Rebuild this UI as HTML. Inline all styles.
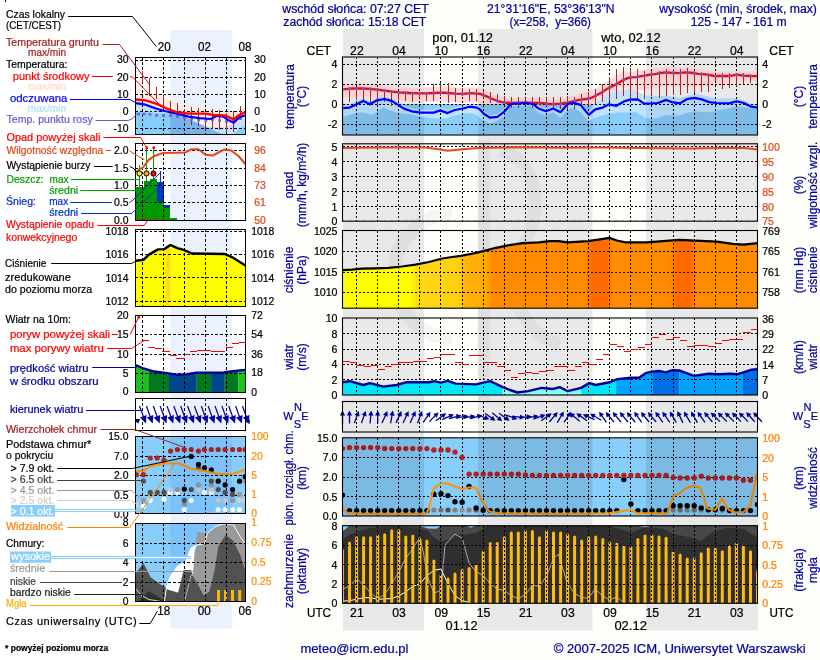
<!DOCTYPE html>
<html lang="pl"><head><meta charset="utf-8"><title>Meteogram ICM</title>
<style>html,body{margin:0;padding:0;background:#fff}svg{display:block}text{white-space:pre}</style>
</head><body>
<svg width="820" height="660" viewBox="0 0 820 660" font-family="Liberation Sans, Arial, sans-serif">
<rect x="280" y="0" width="540" height="660" fill="#fefefb" />
<rect x="343" y="29" width="81" height="601.5" fill="#e8e8e8" />
<rect x="478" y="29" width="114.5" height="601.5" fill="#e8e8e8" />
<rect x="646" y="29" width="112" height="601.5" fill="#e8e8e8" />
<g fill="none" stroke="#000" stroke-opacity="0.035" stroke-linecap="butt">
<path d="M452 214 A58 62 0 1 0 452 338" stroke-width="14"/>
<path d="M484 140 V400" stroke-width="12"/>
<path d="M500 150 C540 160 545 215 520 250 C500 285 520 330 560 345" stroke-width="13"/>
</g>
<defs>
<clipPath id="cP1"><rect x="342.5" y="57" width="415" height="78"/></clipPath>
<clipPath id="cP2"><rect x="342.5" y="143.8" width="415" height="77.4"/></clipPath>
<clipPath id="cP3"><rect x="342.5" y="230.5" width="415" height="77.7"/></clipPath>
<clipPath id="cP4"><rect x="342.5" y="318" width="415" height="77"/></clipPath>
<clipPath id="cP5"><rect x="342.5" y="401.5" width="415" height="30.5"/></clipPath>
<clipPath id="cP6"><rect x="342.5" y="437.8" width="415" height="78.2"/></clipPath>
<clipPath id="cP7"><rect x="342.5" y="525.7" width="415" height="77.6"/></clipPath>
</defs>
<g clip-path="url(#cP1)">
<polygon points="342.5,84.3 349.5,83.7 356.6,83.4 363.6,83.6 370.6,83.9 377.7,84.7 384.7,85.6 391.7,86.6 398.8,87.4 405.8,87.8 412.8,88.1 419.9,88.3 426.9,87.3 433.9,87 441,86.6 448,87 455,87.6 462.1,87.9 469.1,87.3 476.1,87.6 483.2,89.1 490.2,93 497.2,95.8 504.3,97.4 511.3,98 518.3,97.9 525.4,97.7 532.4,97.8 539.4,98 546.5,98.6 553.5,99 560.6,98.5 567.6,97.6 574.6,94.9 581.7,93.2 588.7,91.8 595.7,88.4 602.8,84.1 609.8,79.5 616.8,75.5 623.9,70.9 630.9,71.9 637.9,71.3 645,70.1 652,68.8 659,67.8 666.1,66.8 673.1,67.4 680.1,67.5 687.2,66.8 694.2,67.7 701.2,68.9 708.3,70 715.3,71.4 722.3,71.7 729.4,72 736.4,70.7 743.4,71.6 750.5,72 757.5,72.2 757.5,81.2 750.5,81 743.4,80.6 736.4,79.7 729.4,82 722.3,83.6 715.3,85.2 708.3,85.7 701.2,86.5 694.2,87.2 687.2,86.3 680.1,87 673.1,86.9 666.1,86.3 659,87.3 652,88.3 645,89.6 637.9,90.8 630.9,91.4 623.9,87.7 616.8,91.9 609.8,95.5 602.8,99.7 595.7,103.6 588.7,106.6 581.7,107.6 574.6,108.9 567.6,110.6 560.6,111.5 553.5,112 546.5,111.6 539.4,111 532.4,110.8 525.4,110.7 518.3,110.9 511.3,111 504.3,110.4 497.2,108.8 490.2,106 483.2,104.1 476.1,102.6 469.1,102.3 462.1,102.9 455,102.6 448,102 441,101.6 433.9,102 426.9,102.3 419.9,101.3 412.8,101.1 405.8,100.8 398.8,100.4 391.7,99.6 384.7,98.6 377.7,97.7 370.6,96.9 363.6,96.6 356.6,96.4 349.5,96.7 342.5,97.3" fill="#ffdada" />
<rect x="342.5" y="104" width="415" height="40" fill="#87cefa" />
<polygon points="343.2,105.4 349.6,103.9 357,101.1 363.4,97.9 369.8,101.5 377.1,97.5 384.4,96.2 391.7,98.1 398.1,102.1 404.5,106.1 411.8,108.5 421,109.8 433.8,109.8 440.2,107.6 447.5,110.3 454.8,107.2 463,105.7 469.4,103.9 476.8,104.8 480,106.6 484.1,111.2 490.1,114.9 497.4,114 503.8,109.4 511.1,101.2 525.7,100.2 533,101.2 538.5,105.7 545.9,108.5 553.2,105.7 560.5,109.4 567.8,101.2 573.3,99.9 580.6,102.1 588.8,112 595.2,102.8 602.6,97.3 609,93.5 616.3,90.9 624.5,89.3 630,89.9 637.8,91.6 644.2,94.9 651,96.1 657.9,96.3 666.2,95.7 671.6,96.6 679.9,97.9 687.2,95.7 694.5,94.5 701.8,95 709.1,97.1 716.5,99 729.3,98.1 736.6,98.4 743.9,100.2 751.2,103.8 757.6,104.8 757.6,109.4 743.9,107.6 736.6,105.8 729.3,108.5 718,110.5 707.3,112.2 694.5,111.3 687.2,113.1 678,115.8 666.2,114.9 656.1,118.6 645.1,117.7 636,112.2 625,112.2 618,112.6 608,114 595.2,117.7 588.8,121.3 580.6,112.2 574,108 567.8,109.4 560.5,117.7 553,112.2 546,115 538.5,113.1 533,105.8 511.1,105.8 503.8,116.8 497,121 490.1,123.2 480,118.6 477.7,115.8 470.4,113.1 463,114 453.9,115.8 446.6,118.6 433.8,118.6 421,116.8 408.2,114 399,113.1 389.9,110.4 383.5,107.6 371.6,114.9 362.4,112.2 353.3,114 343.2,116.8" fill="#bfe3ff" />
<clipPath id="nb">
<rect x="343" y="0" width="81" height="660"/>
<rect x="478" y="0" width="114.5" height="660"/>
<rect x="646" y="0" width="111.5" height="660"/>
</clipPath>
<g clip-path="url(#nb)">
<polygon points="342.5,84.3 349.5,83.7 356.6,83.4 363.6,83.6 370.6,83.9 377.7,84.7 384.7,85.6 391.7,86.6 398.8,87.4 405.8,87.8 412.8,88.1 419.9,88.3 426.9,87.3 433.9,87 441,86.6 448,87 455,87.6 462.1,87.9 469.1,87.3 476.1,87.6 483.2,89.1 490.2,93 497.2,95.8 504.3,97.4 511.3,98 518.3,97.9 525.4,97.7 532.4,97.8 539.4,98 546.5,98.6 553.5,99 560.6,98.5 567.6,97.6 574.6,94.9 581.7,93.2 588.7,91.8 595.7,88.4 602.8,84.1 609.8,79.5 616.8,75.5 623.9,70.9 630.9,71.9 637.9,71.3 645,70.1 652,68.8 659,67.8 666.1,66.8 673.1,67.4 680.1,67.5 687.2,66.8 694.2,67.7 701.2,68.9 708.3,70 715.3,71.4 722.3,71.7 729.4,72 736.4,70.7 743.4,71.6 750.5,72 757.5,72.2 757.5,81.2 750.5,81 743.4,80.6 736.4,79.7 729.4,82 722.3,83.6 715.3,85.2 708.3,85.7 701.2,86.5 694.2,87.2 687.2,86.3 680.1,87 673.1,86.9 666.1,86.3 659,87.3 652,88.3 645,89.6 637.9,90.8 630.9,91.4 623.9,87.7 616.8,91.9 609.8,95.5 602.8,99.7 595.7,103.6 588.7,106.6 581.7,107.6 574.6,108.9 567.6,110.6 560.6,111.5 553.5,112 546.5,111.6 539.4,111 532.4,110.8 525.4,110.7 518.3,110.9 511.3,111 504.3,110.4 497.2,108.8 490.2,106 483.2,104.1 476.1,102.6 469.1,102.3 462.1,102.9 455,102.6 448,102 441,101.6 433.9,102 426.9,102.3 419.9,101.3 412.8,101.1 405.8,100.8 398.8,100.4 391.7,99.6 384.7,98.6 377.7,97.7 370.6,96.9 363.6,96.6 356.6,96.4 349.5,96.7 342.5,97.3" fill="#f8d2d2" />
<rect x="342.5" y="104" width="415" height="40" fill="#7dbbe9" />
<polygon points="343.2,105.4 349.6,103.9 357,101.1 363.4,97.9 369.8,101.5 377.1,97.5 384.4,96.2 391.7,98.1 398.1,102.1 404.5,106.1 411.8,108.5 421,109.8 433.8,109.8 440.2,107.6 447.5,110.3 454.8,107.2 463,105.7 469.4,103.9 476.8,104.8 480,106.6 484.1,111.2 490.1,114.9 497.4,114 503.8,109.4 511.1,101.2 525.7,100.2 533,101.2 538.5,105.7 545.9,108.5 553.2,105.7 560.5,109.4 567.8,101.2 573.3,99.9 580.6,102.1 588.8,112 595.2,102.8 602.6,97.3 609,93.5 616.3,90.9 624.5,89.3 630,89.9 637.8,91.6 644.2,94.9 651,96.1 657.9,96.3 666.2,95.7 671.6,96.6 679.9,97.9 687.2,95.7 694.5,94.5 701.8,95 709.1,97.1 716.5,99 729.3,98.1 736.6,98.4 743.9,100.2 751.2,103.8 757.6,104.8 757.6,109.4 743.9,107.6 736.6,105.8 729.3,108.5 718,110.5 707.3,112.2 694.5,111.3 687.2,113.1 678,115.8 666.2,114.9 656.1,118.6 645.1,117.7 636,112.2 625,112.2 618,112.6 608,114 595.2,117.7 588.8,121.3 580.6,112.2 574,108 567.8,109.4 560.5,117.7 553,112.2 546,115 538.5,113.1 533,105.8 511.1,105.8 503.8,116.8 497,121 490.1,123.2 480,118.6 477.7,115.8 470.4,113.1 463,114 453.9,115.8 446.6,118.6 433.8,118.6 421,116.8 408.2,114 399,113.1 389.9,110.4 383.5,107.6 371.6,114.9 362.4,112.2 353.3,114 343.2,116.8" fill="#b0d6f6" />
</g>
</g>
<line x1="342.5" y1="64.5" x2="757.5" y2="64.5" stroke="#000" stroke-width="1" stroke-dasharray="2,2" shape-rendering="crispEdges"/>
<line x1="342.5" y1="84.5" x2="757.5" y2="84.5" stroke="#000" stroke-width="1" stroke-dasharray="2,2" shape-rendering="crispEdges"/>
<line x1="342.5" y1="104.5" x2="757.5" y2="104.5" stroke="#000" stroke-width="1" stroke-dasharray="2,2" shape-rendering="crispEdges"/>
<line x1="342.5" y1="124.5" x2="757.5" y2="124.5" stroke="#000" stroke-width="1" stroke-dasharray="2,2" shape-rendering="crispEdges"/>
<line x1="356.5" y1="57" x2="356.5" y2="135" stroke="#000" stroke-width="1" stroke-dasharray="2,2" shape-rendering="crispEdges"/>
<line x1="377.5" y1="57" x2="377.5" y2="135" stroke="#000" stroke-width="1" stroke-dasharray="2,2" shape-rendering="crispEdges"/>
<line x1="398.5" y1="57" x2="398.5" y2="135" stroke="#000" stroke-width="1" stroke-dasharray="2,2" shape-rendering="crispEdges"/>
<line x1="419.5" y1="57" x2="419.5" y2="135" stroke="#000" stroke-width="1" stroke-dasharray="2,2" shape-rendering="crispEdges"/>
<line x1="440.5" y1="57" x2="440.5" y2="135" stroke="#000" stroke-width="1" stroke-dasharray="2,2" shape-rendering="crispEdges"/>
<line x1="462.5" y1="57" x2="462.5" y2="135" stroke="#000" stroke-width="1" stroke-dasharray="2,2" shape-rendering="crispEdges"/>
<line x1="483.5" y1="57" x2="483.5" y2="135" stroke="#000" stroke-width="1" stroke-dasharray="2,2" shape-rendering="crispEdges"/>
<line x1="504.5" y1="57" x2="504.5" y2="135" stroke="#000" stroke-width="1" stroke-dasharray="2,2" shape-rendering="crispEdges"/>
<line x1="525.5" y1="57" x2="525.5" y2="135" stroke="#000" stroke-width="1" stroke-dasharray="2,2" shape-rendering="crispEdges"/>
<line x1="546.5" y1="57" x2="546.5" y2="135" stroke="#000" stroke-width="1" stroke-dasharray="2,2" shape-rendering="crispEdges"/>
<line x1="567.5" y1="57" x2="567.5" y2="135" stroke="#000" stroke-width="1" stroke-dasharray="2,2" shape-rendering="crispEdges"/>
<line x1="588.5" y1="57" x2="588.5" y2="135" stroke="#000" stroke-width="1" stroke-dasharray="2,2" shape-rendering="crispEdges"/>
<line x1="609.5" y1="57" x2="609.5" y2="135" stroke="#000" stroke-width="1" stroke-dasharray="2,2" shape-rendering="crispEdges"/>
<line x1="630.5" y1="57" x2="630.5" y2="135" stroke="#000" stroke-width="1" stroke-dasharray="2,2" shape-rendering="crispEdges"/>
<line x1="651.5" y1="57" x2="651.5" y2="135" stroke="#000" stroke-width="1" stroke-dasharray="2,2" shape-rendering="crispEdges"/>
<line x1="673.5" y1="57" x2="673.5" y2="135" stroke="#000" stroke-width="1" stroke-dasharray="2,2" shape-rendering="crispEdges"/>
<line x1="694.5" y1="57" x2="694.5" y2="135" stroke="#000" stroke-width="1" stroke-dasharray="2,2" shape-rendering="crispEdges"/>
<line x1="715.5" y1="57" x2="715.5" y2="135" stroke="#000" stroke-width="1" stroke-dasharray="2,2" shape-rendering="crispEdges"/>
<line x1="736.5" y1="57" x2="736.5" y2="135" stroke="#000" stroke-width="1" stroke-dasharray="2,2" shape-rendering="crispEdges"/>
<g clip-path="url(#cP1)">
<line x1="349.5" y1="88.8" x2="349.5" y2="101.8" stroke="#b22222" stroke-width="1" shape-rendering="crispEdges"/>
<line x1="356.5" y1="87.5" x2="356.5" y2="100.3" stroke="#b22222" stroke-width="1" shape-rendering="crispEdges"/>
<line x1="363.5" y1="88.4" x2="363.5" y2="102.1" stroke="#b22222" stroke-width="1" shape-rendering="crispEdges"/>
<line x1="370.5" y1="88.4" x2="370.5" y2="104" stroke="#b22222" stroke-width="1" shape-rendering="crispEdges"/>
<line x1="377.5" y1="89.3" x2="377.5" y2="104.9" stroke="#b22222" stroke-width="1" shape-rendering="crispEdges"/>
<line x1="384.5" y1="89.9" x2="384.5" y2="102.1" stroke="#b22222" stroke-width="1" shape-rendering="crispEdges"/>
<line x1="391.5" y1="91.2" x2="391.5" y2="105.8" stroke="#b22222" stroke-width="1" shape-rendering="crispEdges"/>
<line x1="398.5" y1="91.7" x2="398.5" y2="101.2" stroke="#b22222" stroke-width="1" shape-rendering="crispEdges"/>
<line x1="405.5" y1="92.4" x2="405.5" y2="101.2" stroke="#b22222" stroke-width="1" shape-rendering="crispEdges"/>
<line x1="412.5" y1="92.4" x2="412.5" y2="102.1" stroke="#b22222" stroke-width="1" shape-rendering="crispEdges"/>
<line x1="419.5" y1="93.3" x2="419.5" y2="97.6" stroke="#b22222" stroke-width="1" shape-rendering="crispEdges"/>
<line x1="426.5" y1="93.3" x2="426.5" y2="101.2" stroke="#b22222" stroke-width="1" shape-rendering="crispEdges"/>
<line x1="433.5" y1="83.8" x2="433.5" y2="101.2" stroke="#b22222" stroke-width="1" shape-rendering="crispEdges"/>
<line x1="440.5" y1="82.9" x2="440.5" y2="95.7" stroke="#b22222" stroke-width="1" shape-rendering="crispEdges"/>
<line x1="448.5" y1="82.9" x2="448.5" y2="103" stroke="#b22222" stroke-width="1" shape-rendering="crispEdges"/>
<line x1="455.5" y1="87.5" x2="455.5" y2="102.1" stroke="#b22222" stroke-width="1" shape-rendering="crispEdges"/>
<line x1="462.5" y1="88.4" x2="462.5" y2="95.7" stroke="#b22222" stroke-width="1" shape-rendering="crispEdges"/>
<line x1="469.5" y1="89.3" x2="469.5" y2="101.2" stroke="#b22222" stroke-width="1" shape-rendering="crispEdges"/>
<line x1="476.5" y1="89.3" x2="476.5" y2="101.2" stroke="#b22222" stroke-width="1" shape-rendering="crispEdges"/>
<line x1="483.5" y1="91.2" x2="483.5" y2="97.6" stroke="#b22222" stroke-width="1" shape-rendering="crispEdges"/>
<line x1="490.5" y1="92.1" x2="490.5" y2="103" stroke="#b22222" stroke-width="1" shape-rendering="crispEdges"/>
<line x1="497.5" y1="93.9" x2="497.5" y2="103" stroke="#b22222" stroke-width="1" shape-rendering="crispEdges"/>
<line x1="504.5" y1="95.7" x2="504.5" y2="104" stroke="#b22222" stroke-width="1" shape-rendering="crispEdges"/>
<line x1="511.5" y1="96.6" x2="511.5" y2="107.6" stroke="#b22222" stroke-width="1" shape-rendering="crispEdges"/>
<line x1="518.5" y1="96.6" x2="518.5" y2="107.6" stroke="#b22222" stroke-width="1" shape-rendering="crispEdges"/>
<line x1="525.5" y1="97.6" x2="525.5" y2="104.9" stroke="#b22222" stroke-width="1" shape-rendering="crispEdges"/>
<line x1="532.5" y1="96.6" x2="532.5" y2="107.6" stroke="#b22222" stroke-width="1" shape-rendering="crispEdges"/>
<line x1="539.5" y1="96.6" x2="539.5" y2="104.9" stroke="#b22222" stroke-width="1" shape-rendering="crispEdges"/>
<line x1="546.5" y1="97.6" x2="546.5" y2="105.8" stroke="#b22222" stroke-width="1" shape-rendering="crispEdges"/>
<line x1="553.5" y1="96.6" x2="553.5" y2="108.5" stroke="#b22222" stroke-width="1" shape-rendering="crispEdges"/>
<line x1="560.5" y1="96.6" x2="560.5" y2="108.5" stroke="#b22222" stroke-width="1" shape-rendering="crispEdges"/>
<line x1="567.5" y1="95.7" x2="567.5" y2="108.5" stroke="#b22222" stroke-width="1" shape-rendering="crispEdges"/>
<line x1="574.5" y1="96.6" x2="574.5" y2="108.5" stroke="#b22222" stroke-width="1" shape-rendering="crispEdges"/>
<line x1="581.5" y1="93.9" x2="581.5" y2="104.9" stroke="#b22222" stroke-width="1" shape-rendering="crispEdges"/>
<line x1="588.5" y1="92.1" x2="588.5" y2="105.8" stroke="#b22222" stroke-width="1" shape-rendering="crispEdges"/>
<line x1="595.5" y1="89.3" x2="595.5" y2="104" stroke="#b22222" stroke-width="1" shape-rendering="crispEdges"/>
<line x1="602.5" y1="83.8" x2="602.5" y2="102.1" stroke="#b22222" stroke-width="1" shape-rendering="crispEdges"/>
<line x1="609.5" y1="76.5" x2="609.5" y2="101.2" stroke="#b22222" stroke-width="1" shape-rendering="crispEdges"/>
<line x1="616.5" y1="69.2" x2="616.5" y2="98.5" stroke="#b22222" stroke-width="1" shape-rendering="crispEdges"/>
<line x1="623.5" y1="67.4" x2="623.5" y2="95.7" stroke="#b22222" stroke-width="1" shape-rendering="crispEdges"/>
<line x1="630.5" y1="68.3" x2="630.5" y2="99.4" stroke="#b22222" stroke-width="1" shape-rendering="crispEdges"/>
<line x1="637.5" y1="69.2" x2="637.5" y2="98.5" stroke="#b22222" stroke-width="1" shape-rendering="crispEdges"/>
<line x1="644.5" y1="71" x2="644.5" y2="98.5" stroke="#b22222" stroke-width="1" shape-rendering="crispEdges"/>
<line x1="651.5" y1="71" x2="651.5" y2="95.7" stroke="#b22222" stroke-width="1" shape-rendering="crispEdges"/>
<line x1="659.5" y1="71" x2="659.5" y2="97.6" stroke="#b22222" stroke-width="1" shape-rendering="crispEdges"/>
<line x1="666.5" y1="69.2" x2="666.5" y2="95.7" stroke="#b22222" stroke-width="1" shape-rendering="crispEdges"/>
<line x1="673.5" y1="69.2" x2="673.5" y2="94.8" stroke="#b22222" stroke-width="1" shape-rendering="crispEdges"/>
<line x1="680.5" y1="69.2" x2="680.5" y2="94.8" stroke="#b22222" stroke-width="1" shape-rendering="crispEdges"/>
<line x1="687.5" y1="68.3" x2="687.5" y2="93" stroke="#b22222" stroke-width="1" shape-rendering="crispEdges"/>
<line x1="694.5" y1="70.1" x2="694.5" y2="93" stroke="#b22222" stroke-width="1" shape-rendering="crispEdges"/>
<line x1="701.5" y1="72" x2="701.5" y2="92.1" stroke="#b22222" stroke-width="1" shape-rendering="crispEdges"/>
<line x1="708.5" y1="73.8" x2="708.5" y2="92.1" stroke="#b22222" stroke-width="1" shape-rendering="crispEdges"/>
<line x1="715.5" y1="73.8" x2="715.5" y2="81.1" stroke="#b22222" stroke-width="1" shape-rendering="crispEdges"/>
<line x1="722.5" y1="72.9" x2="722.5" y2="89.3" stroke="#b22222" stroke-width="1" shape-rendering="crispEdges"/>
<line x1="729.5" y1="72.9" x2="729.5" y2="87.5" stroke="#b22222" stroke-width="1" shape-rendering="crispEdges"/>
<line x1="736.5" y1="72.9" x2="736.5" y2="85.7" stroke="#b22222" stroke-width="1" shape-rendering="crispEdges"/>
<line x1="743.5" y1="72.9" x2="743.5" y2="83.8" stroke="#b22222" stroke-width="1" shape-rendering="crispEdges"/>
<line x1="750.5" y1="73.8" x2="750.5" y2="82.9" stroke="#b22222" stroke-width="1" shape-rendering="crispEdges"/>
<polyline points="343.2,89.3 353.3,88.4 361,88.5 369.8,88.8 377,89.6 384.4,90.6 392,91.6 399,92.4 409,93 419,93.3 426,93.3 433.8,93 441,92.6 448,93 455,93.6 463,93.9 470.4,93.2 477,93.7 480,93.9 487.3,96.6 492,98.8 498.3,101.2 503,102.3 509.3,103 517,102.9 525.7,102.7 533,102.8 540.4,103 547,103.6 553.2,104 560,103.6 566,103 571,101.8 576.9,100.3 583,99.4 589.8,98.5 595,96 600.7,93 608,88.4 615.4,84.8 620,82 624.5,79.3 630,77.4 636,77.2 640,76.4 645.1,75.6 650,74.6 656.1,73.8 661,73 666.2,72.3 672,72.8 678,73.2 683,72.7 687.2,72.3 693,73 698.2,73.8 703,74.2 707.3,74.7 714.6,76 722,76 729.3,76 733,75.4 736.6,74.7 740,75.2 743.9,75.6 750,76 757.6,76.2" fill="none" stroke="#ff0000" stroke-width="2.3" stroke-linejoin="round"/>
<circle cx="342.5" cy="89.3" r="1.6" fill="#6a5acd" />
<circle cx="349.5" cy="88.7" r="1.6" fill="#6a5acd" />
<circle cx="356.6" cy="88.4" r="1.6" fill="#6a5acd" />
<circle cx="363.6" cy="88.6" r="1.6" fill="#6a5acd" />
<circle cx="370.6" cy="88.9" r="1.6" fill="#6a5acd" />
<circle cx="377.7" cy="89.7" r="1.6" fill="#6a5acd" />
<circle cx="384.7" cy="90.6" r="1.6" fill="#6a5acd" />
<circle cx="391.7" cy="91.6" r="1.6" fill="#6a5acd" />
<circle cx="398.8" cy="92.4" r="1.6" fill="#6a5acd" />
<circle cx="405.8" cy="92.8" r="1.6" fill="#6a5acd" />
<circle cx="412.8" cy="93.1" r="1.6" fill="#6a5acd" />
<circle cx="419.9" cy="93.3" r="1.6" fill="#6a5acd" />
<circle cx="426.9" cy="93.3" r="1.6" fill="#6a5acd" />
<circle cx="433.9" cy="93" r="1.6" fill="#6a5acd" />
<circle cx="441" cy="92.6" r="1.6" fill="#6a5acd" />
<circle cx="448" cy="93" r="1.6" fill="#6a5acd" />
<circle cx="455" cy="93.6" r="1.6" fill="#6a5acd" />
<circle cx="462.1" cy="93.9" r="1.6" fill="#6a5acd" />
<circle cx="469.1" cy="93.3" r="1.6" fill="#6a5acd" />
<circle cx="476.1" cy="93.6" r="1.6" fill="#6a5acd" />
<circle cx="483.2" cy="95.1" r="1.6" fill="#6a5acd" />
<circle cx="490.2" cy="98" r="1.6" fill="#6a5acd" />
<circle cx="497.2" cy="100.8" r="1.6" fill="#6a5acd" />
<circle cx="504.3" cy="102.4" r="1.6" fill="#6a5acd" />
<circle cx="511.3" cy="103" r="1.6" fill="#6a5acd" />
<circle cx="518.3" cy="102.9" r="1.6" fill="#6a5acd" />
<circle cx="525.4" cy="102.7" r="1.6" fill="#6a5acd" />
<circle cx="532.4" cy="102.8" r="1.6" fill="#6a5acd" />
<circle cx="539.4" cy="103" r="1.6" fill="#6a5acd" />
<circle cx="546.5" cy="103.6" r="1.6" fill="#6a5acd" />
<circle cx="553.5" cy="104" r="1.6" fill="#6a5acd" />
<circle cx="560.6" cy="103.5" r="1.6" fill="#6a5acd" />
<circle cx="567.6" cy="102.6" r="1.6" fill="#6a5acd" />
<circle cx="574.6" cy="100.9" r="1.6" fill="#6a5acd" />
<circle cx="581.7" cy="99.6" r="1.6" fill="#6a5acd" />
<circle cx="588.7" cy="98.6" r="1.6" fill="#6a5acd" />
<circle cx="595.7" cy="95.6" r="1.6" fill="#6a5acd" />
<circle cx="602.8" cy="91.7" r="1.6" fill="#6a5acd" />
<circle cx="609.8" cy="87.5" r="1.6" fill="#6a5acd" />
<circle cx="616.8" cy="83.9" r="1.6" fill="#6a5acd" />
<circle cx="623.9" cy="79.7" r="1.6" fill="#6a5acd" />
<circle cx="630.9" cy="77.4" r="1.6" fill="#6a5acd" />
<circle cx="637.9" cy="76.8" r="1.6" fill="#6a5acd" />
<circle cx="645" cy="75.6" r="1.6" fill="#6a5acd" />
<circle cx="652" cy="74.3" r="1.6" fill="#6a5acd" />
<circle cx="659" cy="73.3" r="1.6" fill="#6a5acd" />
<circle cx="666.1" cy="72.3" r="1.6" fill="#6a5acd" />
<circle cx="673.1" cy="72.9" r="1.6" fill="#6a5acd" />
<circle cx="680.1" cy="73" r="1.6" fill="#6a5acd" />
<circle cx="687.2" cy="72.3" r="1.6" fill="#6a5acd" />
<circle cx="694.2" cy="73.2" r="1.6" fill="#6a5acd" />
<circle cx="701.2" cy="74.1" r="1.6" fill="#6a5acd" />
<circle cx="708.3" cy="74.9" r="1.6" fill="#6a5acd" />
<circle cx="715.3" cy="76" r="1.6" fill="#6a5acd" />
<circle cx="722.3" cy="76" r="1.6" fill="#6a5acd" />
<circle cx="729.4" cy="76" r="1.6" fill="#6a5acd" />
<circle cx="736.4" cy="74.7" r="1.6" fill="#6a5acd" />
<circle cx="743.4" cy="75.6" r="1.6" fill="#6a5acd" />
<circle cx="750.5" cy="76" r="1.6" fill="#6a5acd" />
<circle cx="757.5" cy="76.2" r="1.6" fill="#6a5acd" />
<polyline points="343.2,108.2 349.6,107.6 357,104 363.4,100.9 369.8,104.3 377.1,100.3 384.4,99 391.7,100.9 398.1,104.9 404.5,108.9 411.8,111.3 421,112.6 433.8,112.6 440.2,110.4 447.5,113.1 454.8,110 463,108.5 469.4,106.7 476.8,107.6 480,109.4 484.1,114 490.1,117.7 497.4,116.8 503.8,112.2 511.1,104 525.7,103 533,104 538.5,108.5 545.9,111.3 553.2,108.5 560.5,112.2 567.8,104 573.3,102.7 580.6,104.9 588.8,114.9 595.2,109.4 602.6,107.6 609,104.3 616.3,105.8 624.5,101.2 630,99.6 637.8,99.4 644.2,103.6 651,103.4 657.9,103 666.2,99.9 671.6,102.1 679.9,103.4 687.2,99 694.5,97.9 701.8,99.4 709.1,102.1 716.5,103 729.3,103.4 736.6,101.2 743.9,103 751.2,106.7 757.6,107.6" fill="none" stroke="#0000ff" stroke-width="2.2" stroke-linejoin="round"/>
</g>
<rect x="342.5" y="57" width="415" height="78" fill="none" stroke="#000" stroke-width="1.1"/>
<line x1="342.5" y1="146.5" x2="757.5" y2="146.5" stroke="#000" stroke-width="1" stroke-dasharray="2,2" shape-rendering="crispEdges"/>
<line x1="342.5" y1="161.5" x2="757.5" y2="161.5" stroke="#000" stroke-width="1" stroke-dasharray="2,2" shape-rendering="crispEdges"/>
<line x1="342.5" y1="176.5" x2="757.5" y2="176.5" stroke="#000" stroke-width="1" stroke-dasharray="2,2" shape-rendering="crispEdges"/>
<line x1="342.5" y1="191.5" x2="757.5" y2="191.5" stroke="#000" stroke-width="1" stroke-dasharray="2,2" shape-rendering="crispEdges"/>
<line x1="342.5" y1="206.5" x2="757.5" y2="206.5" stroke="#000" stroke-width="1" stroke-dasharray="2,2" shape-rendering="crispEdges"/>
<line x1="356.5" y1="143.8" x2="356.5" y2="221.2" stroke="#000" stroke-width="1" stroke-dasharray="2,2" shape-rendering="crispEdges"/>
<line x1="377.5" y1="143.8" x2="377.5" y2="221.2" stroke="#000" stroke-width="1" stroke-dasharray="2,2" shape-rendering="crispEdges"/>
<line x1="398.5" y1="143.8" x2="398.5" y2="221.2" stroke="#000" stroke-width="1" stroke-dasharray="2,2" shape-rendering="crispEdges"/>
<line x1="419.5" y1="143.8" x2="419.5" y2="221.2" stroke="#000" stroke-width="1" stroke-dasharray="2,2" shape-rendering="crispEdges"/>
<line x1="440.5" y1="143.8" x2="440.5" y2="221.2" stroke="#000" stroke-width="1" stroke-dasharray="2,2" shape-rendering="crispEdges"/>
<line x1="462.5" y1="143.8" x2="462.5" y2="221.2" stroke="#000" stroke-width="1" stroke-dasharray="2,2" shape-rendering="crispEdges"/>
<line x1="483.5" y1="143.8" x2="483.5" y2="221.2" stroke="#000" stroke-width="1" stroke-dasharray="2,2" shape-rendering="crispEdges"/>
<line x1="504.5" y1="143.8" x2="504.5" y2="221.2" stroke="#000" stroke-width="1" stroke-dasharray="2,2" shape-rendering="crispEdges"/>
<line x1="525.5" y1="143.8" x2="525.5" y2="221.2" stroke="#000" stroke-width="1" stroke-dasharray="2,2" shape-rendering="crispEdges"/>
<line x1="546.5" y1="143.8" x2="546.5" y2="221.2" stroke="#000" stroke-width="1" stroke-dasharray="2,2" shape-rendering="crispEdges"/>
<line x1="567.5" y1="143.8" x2="567.5" y2="221.2" stroke="#000" stroke-width="1" stroke-dasharray="2,2" shape-rendering="crispEdges"/>
<line x1="588.5" y1="143.8" x2="588.5" y2="221.2" stroke="#000" stroke-width="1" stroke-dasharray="2,2" shape-rendering="crispEdges"/>
<line x1="609.5" y1="143.8" x2="609.5" y2="221.2" stroke="#000" stroke-width="1" stroke-dasharray="2,2" shape-rendering="crispEdges"/>
<line x1="630.5" y1="143.8" x2="630.5" y2="221.2" stroke="#000" stroke-width="1" stroke-dasharray="2,2" shape-rendering="crispEdges"/>
<line x1="651.5" y1="143.8" x2="651.5" y2="221.2" stroke="#000" stroke-width="1" stroke-dasharray="2,2" shape-rendering="crispEdges"/>
<line x1="673.5" y1="143.8" x2="673.5" y2="221.2" stroke="#000" stroke-width="1" stroke-dasharray="2,2" shape-rendering="crispEdges"/>
<line x1="694.5" y1="143.8" x2="694.5" y2="221.2" stroke="#000" stroke-width="1" stroke-dasharray="2,2" shape-rendering="crispEdges"/>
<line x1="715.5" y1="143.8" x2="715.5" y2="221.2" stroke="#000" stroke-width="1" stroke-dasharray="2,2" shape-rendering="crispEdges"/>
<line x1="736.5" y1="143.8" x2="736.5" y2="221.2" stroke="#000" stroke-width="1" stroke-dasharray="2,2" shape-rendering="crispEdges"/>
<polyline points="343,148 380,147.5 425,147.5 437,149 447.7,150.8 460,149.5 478,148 520,147.3 560,147.8 600,147.5 640,148 690,148.5 720,148 745,148 757,149.5" fill="none" stroke="#e8481c" stroke-width="2" />
<line x1="342.5" y1="220.5" x2="757.5" y2="220.5" stroke="#0a8a0a" stroke-width="1" stroke-dasharray="1,6" opacity="0.6"/>
<rect x="342.5" y="143.8" width="415" height="77.4" fill="none" stroke="#000" stroke-width="1.1"/>
<defs><linearGradient id="gp" gradientUnits="userSpaceOnUse" x1="342.5" y1="0" x2="757.5" y2="0">
<stop offset="0.0012" stop-color="#ffff00"/>
<stop offset="0.1627" stop-color="#ffff00"/>
<stop offset="0.1819" stop-color="#ffd814"/>
<stop offset="0.2783" stop-color="#ffd010"/>
<stop offset="0.2976" stop-color="#ffb408"/>
<stop offset="0.3458" stop-color="#ffa806"/>
<stop offset="0.3627" stop-color="#ff8c00"/>
<stop offset="0.5843" stop-color="#ff8c00"/>
<stop offset="0.6012" stop-color="#ff6a00"/>
<stop offset="0.6373" stop-color="#ff6a00"/>
<stop offset="0.6518" stop-color="#ff8c00"/>
<stop offset="0.7892" stop-color="#ff8c00"/>
<stop offset="0.8060" stop-color="#ff6a00"/>
<stop offset="0.8373" stop-color="#ff6a00"/>
<stop offset="0.8542" stop-color="#ff8c00"/>
<stop offset="0.9988" stop-color="#ff8c00"/>
</linearGradient></defs>
<g clip-path="url(#cP3)">
<polygon points="342.5,270.1 352,269.6 361.8,268.7 375,268.4 388.7,267.9 402,266.5 415.5,264.7 428.9,262 442.3,258.5 452,257 461.1,255.9 477.2,252.6 496,247.8 509.4,245.1 522.8,243.2 538.9,242.4 549.6,241.1 558.4,241.1 567.8,242.4 587.9,241.1 600,239.3 609.4,237.9 617,240.5 625.5,242.4 647,242.4 663,241.1 679.2,239.8 695.3,240.6 716.7,241.6 732.8,243.8 743.5,244.6 757.8,243.2 757.5,310 342.5,310" fill="url(#gp)" />
</g>
<line x1="342.5" y1="251.5" x2="757.5" y2="251.5" stroke="#000" stroke-width="1" stroke-dasharray="2,2" shape-rendering="crispEdges"/>
<line x1="342.5" y1="272" x2="757.5" y2="272" stroke="#000" stroke-width="1" stroke-dasharray="2,2" shape-rendering="crispEdges"/>
<line x1="342.5" y1="292.5" x2="757.5" y2="292.5" stroke="#000" stroke-width="1" stroke-dasharray="2,2" shape-rendering="crispEdges"/>
<line x1="356.5" y1="230.5" x2="356.5" y2="308.2" stroke="#000" stroke-width="1" stroke-dasharray="2,2" shape-rendering="crispEdges"/>
<line x1="377.5" y1="230.5" x2="377.5" y2="308.2" stroke="#000" stroke-width="1" stroke-dasharray="2,2" shape-rendering="crispEdges"/>
<line x1="398.5" y1="230.5" x2="398.5" y2="308.2" stroke="#000" stroke-width="1" stroke-dasharray="2,2" shape-rendering="crispEdges"/>
<line x1="419.5" y1="230.5" x2="419.5" y2="308.2" stroke="#000" stroke-width="1" stroke-dasharray="2,2" shape-rendering="crispEdges"/>
<line x1="440.5" y1="230.5" x2="440.5" y2="308.2" stroke="#000" stroke-width="1" stroke-dasharray="2,2" shape-rendering="crispEdges"/>
<line x1="462.5" y1="230.5" x2="462.5" y2="308.2" stroke="#000" stroke-width="1" stroke-dasharray="2,2" shape-rendering="crispEdges"/>
<line x1="483.5" y1="230.5" x2="483.5" y2="308.2" stroke="#000" stroke-width="1" stroke-dasharray="2,2" shape-rendering="crispEdges"/>
<line x1="504.5" y1="230.5" x2="504.5" y2="308.2" stroke="#000" stroke-width="1" stroke-dasharray="2,2" shape-rendering="crispEdges"/>
<line x1="525.5" y1="230.5" x2="525.5" y2="308.2" stroke="#000" stroke-width="1" stroke-dasharray="2,2" shape-rendering="crispEdges"/>
<line x1="546.5" y1="230.5" x2="546.5" y2="308.2" stroke="#000" stroke-width="1" stroke-dasharray="2,2" shape-rendering="crispEdges"/>
<line x1="567.5" y1="230.5" x2="567.5" y2="308.2" stroke="#000" stroke-width="1" stroke-dasharray="2,2" shape-rendering="crispEdges"/>
<line x1="588.5" y1="230.5" x2="588.5" y2="308.2" stroke="#000" stroke-width="1" stroke-dasharray="2,2" shape-rendering="crispEdges"/>
<line x1="609.5" y1="230.5" x2="609.5" y2="308.2" stroke="#000" stroke-width="1" stroke-dasharray="2,2" shape-rendering="crispEdges"/>
<line x1="630.5" y1="230.5" x2="630.5" y2="308.2" stroke="#000" stroke-width="1" stroke-dasharray="2,2" shape-rendering="crispEdges"/>
<line x1="651.5" y1="230.5" x2="651.5" y2="308.2" stroke="#000" stroke-width="1" stroke-dasharray="2,2" shape-rendering="crispEdges"/>
<line x1="673.5" y1="230.5" x2="673.5" y2="308.2" stroke="#000" stroke-width="1" stroke-dasharray="2,2" shape-rendering="crispEdges"/>
<line x1="694.5" y1="230.5" x2="694.5" y2="308.2" stroke="#000" stroke-width="1" stroke-dasharray="2,2" shape-rendering="crispEdges"/>
<line x1="715.5" y1="230.5" x2="715.5" y2="308.2" stroke="#000" stroke-width="1" stroke-dasharray="2,2" shape-rendering="crispEdges"/>
<line x1="736.5" y1="230.5" x2="736.5" y2="308.2" stroke="#000" stroke-width="1" stroke-dasharray="2,2" shape-rendering="crispEdges"/>
<g clip-path="url(#cP3)">
<polyline points="342.5,270.1 352,269.6 361.8,268.7 375,268.4 388.7,267.9 402,266.5 415.5,264.7 428.9,262 442.3,258.5 452,257 461.1,255.9 477.2,252.6 496,247.8 509.4,245.1 522.8,243.2 538.9,242.4 549.6,241.1 558.4,241.1 567.8,242.4 587.9,241.1 600,239.3 609.4,237.9 617,240.5 625.5,242.4 647,242.4 663,241.1 679.2,239.8 695.3,240.6 716.7,241.6 732.8,243.8 743.5,244.6 757.8,243.2" fill="none" stroke="#000" stroke-width="2.2" stroke-linejoin="round"/>
</g>
<rect x="342.5" y="230.5" width="415" height="77.7" fill="none" stroke="#000" stroke-width="1.1"/>
<g clip-path="url(#cP4)">
<clipPath id="z342"><rect x="342" y="300" width="160.7" height="100"/></clipPath>
<polygon points="342.5,382.3 349.8,381.2 363.2,385 369.9,383.1 383.3,386.6 396.7,385 406.1,382.3 428.9,382.3 434.3,381.2 441,382.6 447.7,380.9 455.7,383.6 475.9,384.4 490.1,381.2 502.7,387.1 510,390 517.5,392.5 528.2,391.1 541.6,387.9 549.6,388.7 553,389 559.8,387.1 567.8,391.2 581.2,387.9 589.3,383.1 596,385 609.4,382.3 617.4,379.1 630.9,377.7 638.9,377.7 645.6,373.2 652.3,371.6 659,371 665.7,372.4 672.4,370.2 679.2,370.5 693.9,375.9 708.7,373.7 719.4,374.3 730.1,373.7 736.8,374.3 743.5,372.4 751.6,369.7 757.8,369.1 758.5,396 341.5,396" fill="#00e8f8" clip-path="url(#z342)"/>
<clipPath id="z502"><rect x="502.7" y="300" width="78.5" height="100"/></clipPath>
<polygon points="342.5,382.3 349.8,381.2 363.2,385 369.9,383.1 383.3,386.6 396.7,385 406.1,382.3 428.9,382.3 434.3,381.2 441,382.6 447.7,380.9 455.7,383.6 475.9,384.4 490.1,381.2 502.7,387.1 510,390 517.5,392.5 528.2,391.1 541.6,387.9 549.6,388.7 553,389 559.8,387.1 567.8,391.2 581.2,387.9 589.3,383.1 596,385 609.4,382.3 617.4,379.1 630.9,377.7 638.9,377.7 645.6,373.2 652.3,371.6 659,371 665.7,372.4 672.4,370.2 679.2,370.5 693.9,375.9 708.7,373.7 719.4,374.3 730.1,373.7 736.8,374.3 743.5,372.4 751.6,369.7 757.8,369.1 758.5,396 341.5,396" fill="#84fbfb" clip-path="url(#z502)"/>
<clipPath id="z581"><rect x="581.2" y="300" width="34.9" height="100"/></clipPath>
<polygon points="342.5,382.3 349.8,381.2 363.2,385 369.9,383.1 383.3,386.6 396.7,385 406.1,382.3 428.9,382.3 434.3,381.2 441,382.6 447.7,380.9 455.7,383.6 475.9,384.4 490.1,381.2 502.7,387.1 510,390 517.5,392.5 528.2,391.1 541.6,387.9 549.6,388.7 553,389 559.8,387.1 567.8,391.2 581.2,387.9 589.3,383.1 596,385 609.4,382.3 617.4,379.1 630.9,377.7 638.9,377.7 645.6,373.2 652.3,371.6 659,371 665.7,372.4 672.4,370.2 679.2,370.5 693.9,375.9 708.7,373.7 719.4,374.3 730.1,373.7 736.8,374.3 743.5,372.4 751.6,369.7 757.8,369.1 758.5,396 341.5,396" fill="#00e8f8" clip-path="url(#z581)"/>
<clipPath id="z616"><rect x="616.1" y="300" width="36.2" height="100"/></clipPath>
<polygon points="342.5,382.3 349.8,381.2 363.2,385 369.9,383.1 383.3,386.6 396.7,385 406.1,382.3 428.9,382.3 434.3,381.2 441,382.6 447.7,380.9 455.7,383.6 475.9,384.4 490.1,381.2 502.7,387.1 510,390 517.5,392.5 528.2,391.1 541.6,387.9 549.6,388.7 553,389 559.8,387.1 567.8,391.2 581.2,387.9 589.3,383.1 596,385 609.4,382.3 617.4,379.1 630.9,377.7 638.9,377.7 645.6,373.2 652.3,371.6 659,371 665.7,372.4 672.4,370.2 679.2,370.5 693.9,375.9 708.7,373.7 719.4,374.3 730.1,373.7 736.8,374.3 743.5,372.4 751.6,369.7 757.8,369.1 758.5,396 341.5,396" fill="#00a2ff" clip-path="url(#z616)"/>
<clipPath id="z652"><rect x="652.3" y="300" width="26.9" height="100"/></clipPath>
<polygon points="342.5,382.3 349.8,381.2 363.2,385 369.9,383.1 383.3,386.6 396.7,385 406.1,382.3 428.9,382.3 434.3,381.2 441,382.6 447.7,380.9 455.7,383.6 475.9,384.4 490.1,381.2 502.7,387.1 510,390 517.5,392.5 528.2,391.1 541.6,387.9 549.6,388.7 553,389 559.8,387.1 567.8,391.2 581.2,387.9 589.3,383.1 596,385 609.4,382.3 617.4,379.1 630.9,377.7 638.9,377.7 645.6,373.2 652.3,371.6 659,371 665.7,372.4 672.4,370.2 679.2,370.5 693.9,375.9 708.7,373.7 719.4,374.3 730.1,373.7 736.8,374.3 743.5,372.4 751.6,369.7 757.8,369.1 758.5,396 341.5,396" fill="#0070e6" clip-path="url(#z652)"/>
<clipPath id="z679"><rect x="679.2" y="300" width="63.8" height="100"/></clipPath>
<polygon points="342.5,382.3 349.8,381.2 363.2,385 369.9,383.1 383.3,386.6 396.7,385 406.1,382.3 428.9,382.3 434.3,381.2 441,382.6 447.7,380.9 455.7,383.6 475.9,384.4 490.1,381.2 502.7,387.1 510,390 517.5,392.5 528.2,391.1 541.6,387.9 549.6,388.7 553,389 559.8,387.1 567.8,391.2 581.2,387.9 589.3,383.1 596,385 609.4,382.3 617.4,379.1 630.9,377.7 638.9,377.7 645.6,373.2 652.3,371.6 659,371 665.7,372.4 672.4,370.2 679.2,370.5 693.9,375.9 708.7,373.7 719.4,374.3 730.1,373.7 736.8,374.3 743.5,372.4 751.6,369.7 757.8,369.1 758.5,396 341.5,396" fill="#00a2ff" clip-path="url(#z679)"/>
<clipPath id="z743"><rect x="743" y="300" width="15" height="100"/></clipPath>
<polygon points="342.5,382.3 349.8,381.2 363.2,385 369.9,383.1 383.3,386.6 396.7,385 406.1,382.3 428.9,382.3 434.3,381.2 441,382.6 447.7,380.9 455.7,383.6 475.9,384.4 490.1,381.2 502.7,387.1 510,390 517.5,392.5 528.2,391.1 541.6,387.9 549.6,388.7 553,389 559.8,387.1 567.8,391.2 581.2,387.9 589.3,383.1 596,385 609.4,382.3 617.4,379.1 630.9,377.7 638.9,377.7 645.6,373.2 652.3,371.6 659,371 665.7,372.4 672.4,370.2 679.2,370.5 693.9,375.9 708.7,373.7 719.4,374.3 730.1,373.7 736.8,374.3 743.5,372.4 751.6,369.7 757.8,369.1 758.5,396 341.5,396" fill="#0070e6" clip-path="url(#z743)"/>
</g>
<line x1="342.5" y1="333.5" x2="757.5" y2="333.5" stroke="#000" stroke-width="1" stroke-dasharray="2,2" shape-rendering="crispEdges"/>
<line x1="342.5" y1="349" x2="757.5" y2="349" stroke="#000" stroke-width="1" stroke-dasharray="2,2" shape-rendering="crispEdges"/>
<line x1="342.5" y1="364.5" x2="757.5" y2="364.5" stroke="#000" stroke-width="1" stroke-dasharray="2,2" shape-rendering="crispEdges"/>
<line x1="342.5" y1="379.5" x2="757.5" y2="379.5" stroke="#000" stroke-width="1" stroke-dasharray="2,2" shape-rendering="crispEdges"/>
<line x1="356.5" y1="318" x2="356.5" y2="395" stroke="#000" stroke-width="1" stroke-dasharray="2,2" shape-rendering="crispEdges"/>
<line x1="377.5" y1="318" x2="377.5" y2="395" stroke="#000" stroke-width="1" stroke-dasharray="2,2" shape-rendering="crispEdges"/>
<line x1="398.5" y1="318" x2="398.5" y2="395" stroke="#000" stroke-width="1" stroke-dasharray="2,2" shape-rendering="crispEdges"/>
<line x1="419.5" y1="318" x2="419.5" y2="395" stroke="#000" stroke-width="1" stroke-dasharray="2,2" shape-rendering="crispEdges"/>
<line x1="440.5" y1="318" x2="440.5" y2="395" stroke="#000" stroke-width="1" stroke-dasharray="2,2" shape-rendering="crispEdges"/>
<line x1="462.5" y1="318" x2="462.5" y2="395" stroke="#000" stroke-width="1" stroke-dasharray="2,2" shape-rendering="crispEdges"/>
<line x1="483.5" y1="318" x2="483.5" y2="395" stroke="#000" stroke-width="1" stroke-dasharray="2,2" shape-rendering="crispEdges"/>
<line x1="504.5" y1="318" x2="504.5" y2="395" stroke="#000" stroke-width="1" stroke-dasharray="2,2" shape-rendering="crispEdges"/>
<line x1="525.5" y1="318" x2="525.5" y2="395" stroke="#000" stroke-width="1" stroke-dasharray="2,2" shape-rendering="crispEdges"/>
<line x1="546.5" y1="318" x2="546.5" y2="395" stroke="#000" stroke-width="1" stroke-dasharray="2,2" shape-rendering="crispEdges"/>
<line x1="567.5" y1="318" x2="567.5" y2="395" stroke="#000" stroke-width="1" stroke-dasharray="2,2" shape-rendering="crispEdges"/>
<line x1="588.5" y1="318" x2="588.5" y2="395" stroke="#000" stroke-width="1" stroke-dasharray="2,2" shape-rendering="crispEdges"/>
<line x1="609.5" y1="318" x2="609.5" y2="395" stroke="#000" stroke-width="1" stroke-dasharray="2,2" shape-rendering="crispEdges"/>
<line x1="630.5" y1="318" x2="630.5" y2="395" stroke="#000" stroke-width="1" stroke-dasharray="2,2" shape-rendering="crispEdges"/>
<line x1="651.5" y1="318" x2="651.5" y2="395" stroke="#000" stroke-width="1" stroke-dasharray="2,2" shape-rendering="crispEdges"/>
<line x1="673.5" y1="318" x2="673.5" y2="395" stroke="#000" stroke-width="1" stroke-dasharray="2,2" shape-rendering="crispEdges"/>
<line x1="694.5" y1="318" x2="694.5" y2="395" stroke="#000" stroke-width="1" stroke-dasharray="2,2" shape-rendering="crispEdges"/>
<line x1="715.5" y1="318" x2="715.5" y2="395" stroke="#000" stroke-width="1" stroke-dasharray="2,2" shape-rendering="crispEdges"/>
<line x1="736.5" y1="318" x2="736.5" y2="395" stroke="#000" stroke-width="1" stroke-dasharray="2,2" shape-rendering="crispEdges"/>
<g clip-path="url(#cP4)">
<polyline points="342.5,382.3 349.8,381.2 363.2,385 369.9,383.1 383.3,386.6 396.7,385 406.1,382.3 428.9,382.3 434.3,381.2 441,382.6 447.7,380.9 455.7,383.6 475.9,384.4 490.1,381.2 502.7,387.1 510,390 517.5,392.5 528.2,391.1 541.6,387.9 549.6,388.7 553,389 559.8,387.1 567.8,391.2 581.2,387.9 589.3,383.1 596,385 609.4,382.3 617.4,379.1 630.9,377.7 638.9,377.7 645.6,373.2 652.3,371.6 659,371 665.7,372.4 672.4,370.2 679.2,370.5 693.9,375.9 708.7,373.7 719.4,374.3 730.1,373.7 736.8,374.3 743.5,372.4 751.6,369.7 757.8,369.1" fill="none" stroke="#00009c" stroke-width="2.4" stroke-linejoin="round"/>
<line x1="342.5" y1="361.5" x2="349.5" y2="361.5" stroke="#ff0000" stroke-width="1" shape-rendering="crispEdges"/>
<line x1="349.5" y1="362.5" x2="356.6" y2="362.5" stroke="#ff0000" stroke-width="1" shape-rendering="crispEdges"/>
<line x1="356.6" y1="365.5" x2="363.6" y2="365.5" stroke="#ff0000" stroke-width="1" shape-rendering="crispEdges"/>
<line x1="363.6" y1="366.5" x2="370.6" y2="366.5" stroke="#ff0000" stroke-width="1" shape-rendering="crispEdges"/>
<line x1="370.6" y1="365.5" x2="377.7" y2="365.5" stroke="#ff0000" stroke-width="1" shape-rendering="crispEdges"/>
<line x1="377.7" y1="369.5" x2="384.7" y2="369.5" stroke="#ff0000" stroke-width="1" shape-rendering="crispEdges"/>
<line x1="384.7" y1="366.5" x2="391.7" y2="366.5" stroke="#ff0000" stroke-width="1" shape-rendering="crispEdges"/>
<line x1="391.7" y1="364.5" x2="398.8" y2="364.5" stroke="#ff0000" stroke-width="1" shape-rendering="crispEdges"/>
<line x1="398.8" y1="362.5" x2="405.8" y2="362.5" stroke="#ff0000" stroke-width="1" shape-rendering="crispEdges"/>
<line x1="405.8" y1="362.5" x2="412.8" y2="362.5" stroke="#ff0000" stroke-width="1" shape-rendering="crispEdges"/>
<line x1="412.8" y1="361.5" x2="419.9" y2="361.5" stroke="#ff0000" stroke-width="1" shape-rendering="crispEdges"/>
<line x1="419.9" y1="361.5" x2="426.9" y2="361.5" stroke="#ff0000" stroke-width="1" shape-rendering="crispEdges"/>
<line x1="426.9" y1="358.5" x2="433.9" y2="358.5" stroke="#ff0000" stroke-width="1" shape-rendering="crispEdges"/>
<line x1="433.9" y1="357.5" x2="441" y2="357.5" stroke="#ff0000" stroke-width="1" shape-rendering="crispEdges"/>
<line x1="441" y1="354.5" x2="448" y2="354.5" stroke="#ff0000" stroke-width="1" shape-rendering="crispEdges"/>
<line x1="448" y1="354.5" x2="455" y2="354.5" stroke="#ff0000" stroke-width="1" shape-rendering="crispEdges"/>
<line x1="455" y1="362.5" x2="462.1" y2="362.5" stroke="#ff0000" stroke-width="1" shape-rendering="crispEdges"/>
<line x1="462.1" y1="364.5" x2="469.1" y2="364.5" stroke="#ff0000" stroke-width="1" shape-rendering="crispEdges"/>
<line x1="469.1" y1="355.5" x2="476.1" y2="355.5" stroke="#ff0000" stroke-width="1" shape-rendering="crispEdges"/>
<line x1="476.1" y1="355.5" x2="483.2" y2="355.5" stroke="#ff0000" stroke-width="1" shape-rendering="crispEdges"/>
<line x1="483.2" y1="362.5" x2="490.2" y2="362.5" stroke="#ff0000" stroke-width="1" shape-rendering="crispEdges"/>
<line x1="490.2" y1="362.5" x2="497.2" y2="362.5" stroke="#ff0000" stroke-width="1" shape-rendering="crispEdges"/>
<line x1="497.2" y1="366.5" x2="504.3" y2="366.5" stroke="#ff0000" stroke-width="1" shape-rendering="crispEdges"/>
<line x1="504.3" y1="370.5" x2="511.3" y2="370.5" stroke="#ff0000" stroke-width="1" shape-rendering="crispEdges"/>
<line x1="511.3" y1="377.5" x2="518.3" y2="377.5" stroke="#ff0000" stroke-width="1" shape-rendering="crispEdges"/>
<line x1="518.3" y1="373.5" x2="525.4" y2="373.5" stroke="#ff0000" stroke-width="1" shape-rendering="crispEdges"/>
<line x1="525.4" y1="372.5" x2="532.4" y2="372.5" stroke="#ff0000" stroke-width="1" shape-rendering="crispEdges"/>
<line x1="532.4" y1="373.5" x2="539.4" y2="373.5" stroke="#ff0000" stroke-width="1" shape-rendering="crispEdges"/>
<line x1="539.4" y1="371.5" x2="546.5" y2="371.5" stroke="#ff0000" stroke-width="1" shape-rendering="crispEdges"/>
<line x1="546.5" y1="370.5" x2="553.5" y2="370.5" stroke="#ff0000" stroke-width="1" shape-rendering="crispEdges"/>
<line x1="553.5" y1="366.5" x2="560.6" y2="366.5" stroke="#ff0000" stroke-width="1" shape-rendering="crispEdges"/>
<line x1="560.6" y1="366.5" x2="567.6" y2="366.5" stroke="#ff0000" stroke-width="1" shape-rendering="crispEdges"/>
<line x1="567.6" y1="370.5" x2="574.6" y2="370.5" stroke="#ff0000" stroke-width="1" shape-rendering="crispEdges"/>
<line x1="574.6" y1="366.5" x2="581.7" y2="366.5" stroke="#ff0000" stroke-width="1" shape-rendering="crispEdges"/>
<line x1="581.7" y1="362.5" x2="588.7" y2="362.5" stroke="#ff0000" stroke-width="1" shape-rendering="crispEdges"/>
<line x1="588.7" y1="364.5" x2="595.7" y2="364.5" stroke="#ff0000" stroke-width="1" shape-rendering="crispEdges"/>
<line x1="595.7" y1="359.5" x2="602.8" y2="359.5" stroke="#ff0000" stroke-width="1" shape-rendering="crispEdges"/>
<line x1="602.8" y1="354.5" x2="609.8" y2="354.5" stroke="#ff0000" stroke-width="1" shape-rendering="crispEdges"/>
<line x1="609.8" y1="344.5" x2="616.8" y2="344.5" stroke="#ff0000" stroke-width="1" shape-rendering="crispEdges"/>
<line x1="616.8" y1="346.5" x2="623.9" y2="346.5" stroke="#ff0000" stroke-width="1" shape-rendering="crispEdges"/>
<line x1="623.9" y1="351.5" x2="630.9" y2="351.5" stroke="#ff0000" stroke-width="1" shape-rendering="crispEdges"/>
<line x1="630.9" y1="349.5" x2="637.9" y2="349.5" stroke="#ff0000" stroke-width="1" shape-rendering="crispEdges"/>
<line x1="637.9" y1="347.5" x2="645" y2="347.5" stroke="#ff0000" stroke-width="1" shape-rendering="crispEdges"/>
<line x1="645" y1="344.5" x2="652" y2="344.5" stroke="#ff0000" stroke-width="1" shape-rendering="crispEdges"/>
<line x1="652" y1="337.5" x2="659" y2="337.5" stroke="#ff0000" stroke-width="1" shape-rendering="crispEdges"/>
<line x1="659" y1="334.5" x2="666.1" y2="334.5" stroke="#ff0000" stroke-width="1" shape-rendering="crispEdges"/>
<line x1="666.1" y1="339.5" x2="673.1" y2="339.5" stroke="#ff0000" stroke-width="1" shape-rendering="crispEdges"/>
<line x1="673.1" y1="337.5" x2="680.1" y2="337.5" stroke="#ff0000" stroke-width="1" shape-rendering="crispEdges"/>
<line x1="680.1" y1="340.5" x2="687.2" y2="340.5" stroke="#ff0000" stroke-width="1" shape-rendering="crispEdges"/>
<line x1="687.2" y1="346.5" x2="694.2" y2="346.5" stroke="#ff0000" stroke-width="1" shape-rendering="crispEdges"/>
<line x1="694.2" y1="345.5" x2="701.2" y2="345.5" stroke="#ff0000" stroke-width="1" shape-rendering="crispEdges"/>
<line x1="701.2" y1="345.5" x2="708.3" y2="345.5" stroke="#ff0000" stroke-width="1" shape-rendering="crispEdges"/>
<line x1="708.3" y1="346.5" x2="715.3" y2="346.5" stroke="#ff0000" stroke-width="1" shape-rendering="crispEdges"/>
<line x1="715.3" y1="343.5" x2="722.3" y2="343.5" stroke="#ff0000" stroke-width="1" shape-rendering="crispEdges"/>
<line x1="722.3" y1="340.5" x2="729.4" y2="340.5" stroke="#ff0000" stroke-width="1" shape-rendering="crispEdges"/>
<line x1="729.4" y1="339.5" x2="736.4" y2="339.5" stroke="#ff0000" stroke-width="1" shape-rendering="crispEdges"/>
<line x1="736.4" y1="339.5" x2="743.4" y2="339.5" stroke="#ff0000" stroke-width="1" shape-rendering="crispEdges"/>
<line x1="743.4" y1="332.5" x2="750.5" y2="332.5" stroke="#ff0000" stroke-width="1" shape-rendering="crispEdges"/>
<line x1="750.5" y1="329.5" x2="757.5" y2="329.5" stroke="#ff0000" stroke-width="1" shape-rendering="crispEdges"/>
</g>
<rect x="342.5" y="318" width="415" height="77" fill="none" stroke="#000" stroke-width="1.1"/>
<line x1="356.5" y1="401.5" x2="356.5" y2="432" stroke="#000" stroke-width="1" stroke-dasharray="2,2" shape-rendering="crispEdges"/>
<line x1="377.5" y1="401.5" x2="377.5" y2="432" stroke="#000" stroke-width="1" stroke-dasharray="2,2" shape-rendering="crispEdges"/>
<line x1="398.5" y1="401.5" x2="398.5" y2="432" stroke="#000" stroke-width="1" stroke-dasharray="2,2" shape-rendering="crispEdges"/>
<line x1="419.5" y1="401.5" x2="419.5" y2="432" stroke="#000" stroke-width="1" stroke-dasharray="2,2" shape-rendering="crispEdges"/>
<line x1="440.5" y1="401.5" x2="440.5" y2="432" stroke="#000" stroke-width="1" stroke-dasharray="2,2" shape-rendering="crispEdges"/>
<line x1="462.5" y1="401.5" x2="462.5" y2="432" stroke="#000" stroke-width="1" stroke-dasharray="2,2" shape-rendering="crispEdges"/>
<line x1="483.5" y1="401.5" x2="483.5" y2="432" stroke="#000" stroke-width="1" stroke-dasharray="2,2" shape-rendering="crispEdges"/>
<line x1="504.5" y1="401.5" x2="504.5" y2="432" stroke="#000" stroke-width="1" stroke-dasharray="2,2" shape-rendering="crispEdges"/>
<line x1="525.5" y1="401.5" x2="525.5" y2="432" stroke="#000" stroke-width="1" stroke-dasharray="2,2" shape-rendering="crispEdges"/>
<line x1="546.5" y1="401.5" x2="546.5" y2="432" stroke="#000" stroke-width="1" stroke-dasharray="2,2" shape-rendering="crispEdges"/>
<line x1="567.5" y1="401.5" x2="567.5" y2="432" stroke="#000" stroke-width="1" stroke-dasharray="2,2" shape-rendering="crispEdges"/>
<line x1="588.5" y1="401.5" x2="588.5" y2="432" stroke="#000" stroke-width="1" stroke-dasharray="2,2" shape-rendering="crispEdges"/>
<line x1="609.5" y1="401.5" x2="609.5" y2="432" stroke="#000" stroke-width="1" stroke-dasharray="2,2" shape-rendering="crispEdges"/>
<line x1="630.5" y1="401.5" x2="630.5" y2="432" stroke="#000" stroke-width="1" stroke-dasharray="2,2" shape-rendering="crispEdges"/>
<line x1="651.5" y1="401.5" x2="651.5" y2="432" stroke="#000" stroke-width="1" stroke-dasharray="2,2" shape-rendering="crispEdges"/>
<line x1="673.5" y1="401.5" x2="673.5" y2="432" stroke="#000" stroke-width="1" stroke-dasharray="2,2" shape-rendering="crispEdges"/>
<line x1="694.5" y1="401.5" x2="694.5" y2="432" stroke="#000" stroke-width="1" stroke-dasharray="2,2" shape-rendering="crispEdges"/>
<line x1="715.5" y1="401.5" x2="715.5" y2="432" stroke="#000" stroke-width="1" stroke-dasharray="2,2" shape-rendering="crispEdges"/>
<line x1="736.5" y1="401.5" x2="736.5" y2="432" stroke="#000" stroke-width="1" stroke-dasharray="2,2" shape-rendering="crispEdges"/>
<line x1="342.5" y1="423.5" x2="342.5" y2="412.5" stroke="#00009c" stroke-width="1.3" />
<polygon points="342.5,410.5 345.1,415.5 339.9,415.5" fill="#00009c" />
<line x1="349.5" y1="423.5" x2="349.5" y2="412.5" stroke="#00009c" stroke-width="1.3" />
<polygon points="349.5,410.5 352.1,415.5 346.9,415.5" fill="#00009c" />
<line x1="354.3" y1="423.1" x2="358.1" y2="412.8" stroke="#00009c" stroke-width="1.3" />
<polygon points="358.8,410.9 359.5,416.5 354.6,414.7" fill="#00009c" />
<line x1="361.4" y1="423.1" x2="365.1" y2="412.8" stroke="#00009c" stroke-width="1.3" />
<polygon points="365.8,410.9 366.6,416.5 361.7,414.7" fill="#00009c" />
<line x1="370.1" y1="423.5" x2="371" y2="412.5" stroke="#00009c" stroke-width="1.3" />
<polygon points="371.2,410.5 373.4,415.7 368.2,415.3" fill="#00009c" />
<line x1="377.7" y1="423.5" x2="377.7" y2="412.5" stroke="#00009c" stroke-width="1.3" />
<polygon points="377.7,410.5 380.3,415.5 375.1,415.5" fill="#00009c" />
<line x1="382" y1="422.9" x2="386.6" y2="412.9" stroke="#00009c" stroke-width="1.3" />
<polygon points="387.5,411.1 387.7,416.7 383,414.5" fill="#00009c" />
<line x1="390.6" y1="423.4" x2="392.5" y2="412.6" stroke="#00009c" stroke-width="1.3" />
<polygon points="392.9,410.6 394.6,416 389.4,415.1" fill="#00009c" />
<line x1="396" y1="422.9" x2="400.7" y2="412.9" stroke="#00009c" stroke-width="1.3" />
<polygon points="401.5,411.1 401.8,416.7 397,414.5" fill="#00009c" />
<line x1="403.1" y1="422.9" x2="407.7" y2="412.9" stroke="#00009c" stroke-width="1.3" />
<polygon points="408.6,411.1 408.8,416.7 404.1,414.5" fill="#00009c" />
<line x1="410.1" y1="422.9" x2="414.7" y2="412.9" stroke="#00009c" stroke-width="1.3" />
<polygon points="415.6,411.1 415.8,416.7 411.1,414.5" fill="#00009c" />
<line x1="417.6" y1="423.1" x2="421.4" y2="412.8" stroke="#00009c" stroke-width="1.3" />
<polygon points="422.1,410.9 422.8,416.5 417.9,414.7" fill="#00009c" />
<line x1="423.2" y1="422.3" x2="429.5" y2="413.3" stroke="#00009c" stroke-width="1.3" />
<polygon points="430.6,411.7 429.9,417.3 425.6,414.3" fill="#00009c" />
<line x1="429.3" y1="421.6" x2="437.1" y2="413.8" stroke="#00009c" stroke-width="1.3" />
<polygon points="438.5,412.4 436.8,417.8 433.2,414.1" fill="#00009c" />
<line x1="435.7" y1="420.7" x2="444.7" y2="414.4" stroke="#00009c" stroke-width="1.3" />
<polygon points="446.3,413.3 443.7,418.3 440.7,414" fill="#00009c" />
<line x1="442.1" y1="419.7" x2="452.1" y2="415.1" stroke="#00009c" stroke-width="1.3" />
<polygon points="453.9,414.3 450.5,418.7 448.3,414" fill="#00009c" />
<line x1="448.8" y1="418.7" x2="459.4" y2="415.8" stroke="#00009c" stroke-width="1.3" />
<polygon points="461.3,415.3 457.2,419.1 455.8,414.1" fill="#00009c" />
<line x1="455.7" y1="418.1" x2="466.5" y2="416.2" stroke="#00009c" stroke-width="1.3" />
<polygon points="468.5,415.9 464,419.3 463.1,414.2" fill="#00009c" />
<line x1="462.7" y1="418.1" x2="473.5" y2="416.2" stroke="#00009c" stroke-width="1.3" />
<polygon points="475.5,415.9 471,419.3 470.1,414.2" fill="#00009c" />
<line x1="469.9" y1="418.7" x2="480.5" y2="415.8" stroke="#00009c" stroke-width="1.3" />
<polygon points="482.4,415.3 478.3,419.1 476.9,414.1" fill="#00009c" />
<line x1="477.1" y1="414.8" x2="487.4" y2="418.5" stroke="#00009c" stroke-width="1.3" />
<polygon points="489.3,419.2 483.7,420 485.5,415.1" fill="#00009c" />
<line x1="484.9" y1="413.3" x2="493.9" y2="419.6" stroke="#00009c" stroke-width="1.3" />
<polygon points="495.5,420.7 489.9,420 492.9,415.7" fill="#00009c" />
<line x1="492.3" y1="412.8" x2="500.7" y2="419.9" stroke="#00009c" stroke-width="1.3" />
<polygon points="502.2,421.2 496.7,420 500.1,416" fill="#00009c" />
<line x1="499" y1="413.3" x2="508" y2="419.6" stroke="#00009c" stroke-width="1.3" />
<polygon points="509.6,420.7 504,420 507,415.7" fill="#00009c" />
<line x1="505.2" y1="414.8" x2="515.5" y2="418.5" stroke="#00009c" stroke-width="1.3" />
<polygon points="517.4,419.2 511.8,420 513.6,415.1" fill="#00009c" />
<line x1="511.9" y1="416.4" x2="522.8" y2="417.4" stroke="#00009c" stroke-width="1.3" />
<polygon points="524.8,417.6 519.6,419.7 520.1,414.5" fill="#00009c" />
<line x1="518.9" y1="417.6" x2="529.9" y2="416.6" stroke="#00009c" stroke-width="1.3" />
<polygon points="531.9,416.4 527.1,419.5 526.6,414.3" fill="#00009c" />
<line x1="526" y1="418.1" x2="536.8" y2="416.2" stroke="#00009c" stroke-width="1.3" />
<polygon points="538.8,415.9 534.3,419.3 533.4,414.2" fill="#00009c" />
<line x1="533.3" y1="419.2" x2="543.7" y2="415.5" stroke="#00009c" stroke-width="1.3" />
<polygon points="545.6,414.8 541.7,418.9 540,414" fill="#00009c" />
<line x1="541.2" y1="420.7" x2="550.2" y2="414.4" stroke="#00009c" stroke-width="1.3" />
<polygon points="551.8,413.3 549.2,418.3 546.2,414" fill="#00009c" />
<line x1="549.3" y1="422" x2="556.4" y2="413.6" stroke="#00009c" stroke-width="1.3" />
<polygon points="557.7,412 556.5,417.5 552.5,414.2" fill="#00009c" />
<line x1="557.3" y1="422.6" x2="562.8" y2="413.1" stroke="#00009c" stroke-width="1.3" />
<polygon points="563.8,411.4 563.6,417 559,414.4" fill="#00009c" />
<line x1="563.9" y1="422.3" x2="570.2" y2="413.3" stroke="#00009c" stroke-width="1.3" />
<polygon points="571.3,411.7 570.6,417.3 566.3,414.3" fill="#00009c" />
<line x1="579.6" y1="421.2" x2="571.2" y2="414.1" stroke="#00009c" stroke-width="1.3" />
<polygon points="569.6,412.8 575.1,414 571.8,418" fill="#00009c" />
<line x1="587" y1="420.7" x2="578" y2="414.4" stroke="#00009c" stroke-width="1.3" />
<polygon points="576.3,413.3 581.9,414 578.9,418.3" fill="#00009c" />
<line x1="594.6" y1="419.7" x2="584.6" y2="415.1" stroke="#00009c" stroke-width="1.3" />
<polygon points="582.8,414.3 588.4,414 586.2,418.7" fill="#00009c" />
<line x1="601.3" y1="420.2" x2="591.8" y2="414.8" stroke="#00009c" stroke-width="1.3" />
<polygon points="590.1,413.8 595.7,414 593.1,418.5" fill="#00009c" />
<line x1="606.5" y1="422.3" x2="600.2" y2="413.3" stroke="#00009c" stroke-width="1.3" />
<polygon points="599,411.7 604,414.3 599.8,417.3" fill="#00009c" />
<line x1="614" y1="422" x2="606.9" y2="413.6" stroke="#00009c" stroke-width="1.3" />
<polygon points="605.6,412 610.8,414.2 606.8,417.5" fill="#00009c" />
<line x1="621" y1="422" x2="613.9" y2="413.6" stroke="#00009c" stroke-width="1.3" />
<polygon points="612.6,412 617.8,414.2 613.9,417.5" fill="#00009c" />
<line x1="628" y1="422" x2="621" y2="413.6" stroke="#00009c" stroke-width="1.3" />
<polygon points="619.7,412 624.9,414.2 620.9,417.5" fill="#00009c" />
<line x1="635.1" y1="422" x2="628" y2="413.6" stroke="#00009c" stroke-width="1.3" />
<polygon points="626.7,412 631.9,414.2 627.9,417.5" fill="#00009c" />
<line x1="641.7" y1="422.3" x2="635.3" y2="413.3" stroke="#00009c" stroke-width="1.3" />
<polygon points="634.2,411.7 639.2,414.3 634.9,417.3" fill="#00009c" />
<line x1="649.1" y1="422" x2="642.1" y2="413.6" stroke="#00009c" stroke-width="1.3" />
<polygon points="640.8,412 646,414.2 642,417.5" fill="#00009c" />
<line x1="656.2" y1="422" x2="649.1" y2="413.6" stroke="#00009c" stroke-width="1.3" />
<polygon points="647.8,412 653,414.2 649,417.5" fill="#00009c" />
<line x1="662.8" y1="422.3" x2="656.4" y2="413.3" stroke="#00009c" stroke-width="1.3" />
<polygon points="655.3,411.7 660.3,414.3 656,417.3" fill="#00009c" />
<line x1="669.8" y1="422.3" x2="663.5" y2="413.3" stroke="#00009c" stroke-width="1.3" />
<polygon points="662.3,411.7 667.3,414.3 663.1,417.3" fill="#00009c" />
<line x1="676.3" y1="422.6" x2="670.8" y2="413.1" stroke="#00009c" stroke-width="1.3" />
<polygon points="669.8,411.4 674.6,414.4 670.1,417" fill="#00009c" />
<line x1="682.9" y1="422.9" x2="678.2" y2="412.9" stroke="#00009c" stroke-width="1.3" />
<polygon points="677.4,411.1 681.8,414.5 677.1,416.7" fill="#00009c" />
<line x1="690.4" y1="422.6" x2="684.9" y2="413.1" stroke="#00009c" stroke-width="1.3" />
<polygon points="683.9,411.4 688.7,414.4 684.2,417" fill="#00009c" />
<line x1="697.4" y1="422.6" x2="691.9" y2="413.1" stroke="#00009c" stroke-width="1.3" />
<polygon points="690.9,411.4 695.7,414.4 691.2,417" fill="#00009c" />
<line x1="705" y1="422.3" x2="698.6" y2="413.3" stroke="#00009c" stroke-width="1.3" />
<polygon points="697.5,411.7 702.5,414.3 698.2,417.3" fill="#00009c" />
<line x1="712.4" y1="422" x2="705.4" y2="413.6" stroke="#00009c" stroke-width="1.3" />
<polygon points="704.1,412 709.3,414.2 705.3,417.5" fill="#00009c" />
<line x1="719.9" y1="421.6" x2="712.1" y2="413.8" stroke="#00009c" stroke-width="1.3" />
<polygon points="710.7,412.4 716.1,414.1 712.4,417.8" fill="#00009c" />
<line x1="726.9" y1="421.6" x2="719.1" y2="413.8" stroke="#00009c" stroke-width="1.3" />
<polygon points="717.7,412.4 723.1,414.1 719.4,417.8" fill="#00009c" />
<line x1="734" y1="421.6" x2="726.2" y2="413.8" stroke="#00009c" stroke-width="1.3" />
<polygon points="724.8,412.4 730.1,414.1 726.5,417.8" fill="#00009c" />
<line x1="741" y1="421.6" x2="733.2" y2="413.8" stroke="#00009c" stroke-width="1.3" />
<polygon points="731.8,412.4 737.2,414.1 733.5,417.8" fill="#00009c" />
<line x1="748" y1="421.6" x2="740.3" y2="413.8" stroke="#00009c" stroke-width="1.3" />
<polygon points="738.8,412.4 744.2,414.1 740.5,417.8" fill="#00009c" />
<line x1="754.8" y1="421.8" x2="747.5" y2="413.7" stroke="#00009c" stroke-width="1.3" />
<polygon points="746.1,412.2 751.4,414.1 747.5,417.6" fill="#00009c" />
<line x1="761.8" y1="421.8" x2="754.5" y2="413.7" stroke="#00009c" stroke-width="1.3" />
<polygon points="753.2,412.2 758.4,414.1 754.6,417.6" fill="#00009c" />
<rect x="342.5" y="401.5" width="415" height="30.5" fill="none" stroke="#000" stroke-width="1.1"/>
<rect x="342.5" y="437.8" width="415" height="78.2" fill="#87cefa" />
<line x1="342.5" y1="457.5" x2="757.5" y2="457.5" stroke="#000" stroke-width="1" stroke-dasharray="2,2" shape-rendering="crispEdges"/>
<line x1="342.5" y1="477" x2="757.5" y2="477" stroke="#000" stroke-width="1" stroke-dasharray="2,2" shape-rendering="crispEdges"/>
<line x1="342.5" y1="496.5" x2="757.5" y2="496.5" stroke="#000" stroke-width="1" stroke-dasharray="2,2" shape-rendering="crispEdges"/>
<line x1="356.5" y1="437.8" x2="356.5" y2="516" stroke="#000" stroke-width="1" stroke-dasharray="2,2" shape-rendering="crispEdges"/>
<line x1="377.5" y1="437.8" x2="377.5" y2="516" stroke="#000" stroke-width="1" stroke-dasharray="2,2" shape-rendering="crispEdges"/>
<line x1="398.5" y1="437.8" x2="398.5" y2="516" stroke="#000" stroke-width="1" stroke-dasharray="2,2" shape-rendering="crispEdges"/>
<line x1="419.5" y1="437.8" x2="419.5" y2="516" stroke="#000" stroke-width="1" stroke-dasharray="2,2" shape-rendering="crispEdges"/>
<line x1="440.5" y1="437.8" x2="440.5" y2="516" stroke="#000" stroke-width="1" stroke-dasharray="2,2" shape-rendering="crispEdges"/>
<line x1="462.5" y1="437.8" x2="462.5" y2="516" stroke="#000" stroke-width="1" stroke-dasharray="2,2" shape-rendering="crispEdges"/>
<line x1="483.5" y1="437.8" x2="483.5" y2="516" stroke="#000" stroke-width="1" stroke-dasharray="2,2" shape-rendering="crispEdges"/>
<line x1="504.5" y1="437.8" x2="504.5" y2="516" stroke="#000" stroke-width="1" stroke-dasharray="2,2" shape-rendering="crispEdges"/>
<line x1="525.5" y1="437.8" x2="525.5" y2="516" stroke="#000" stroke-width="1" stroke-dasharray="2,2" shape-rendering="crispEdges"/>
<line x1="546.5" y1="437.8" x2="546.5" y2="516" stroke="#000" stroke-width="1" stroke-dasharray="2,2" shape-rendering="crispEdges"/>
<line x1="567.5" y1="437.8" x2="567.5" y2="516" stroke="#000" stroke-width="1" stroke-dasharray="2,2" shape-rendering="crispEdges"/>
<line x1="588.5" y1="437.8" x2="588.5" y2="516" stroke="#000" stroke-width="1" stroke-dasharray="2,2" shape-rendering="crispEdges"/>
<line x1="609.5" y1="437.8" x2="609.5" y2="516" stroke="#000" stroke-width="1" stroke-dasharray="2,2" shape-rendering="crispEdges"/>
<line x1="630.5" y1="437.8" x2="630.5" y2="516" stroke="#000" stroke-width="1" stroke-dasharray="2,2" shape-rendering="crispEdges"/>
<line x1="651.5" y1="437.8" x2="651.5" y2="516" stroke="#000" stroke-width="1" stroke-dasharray="2,2" shape-rendering="crispEdges"/>
<line x1="673.5" y1="437.8" x2="673.5" y2="516" stroke="#000" stroke-width="1" stroke-dasharray="2,2" shape-rendering="crispEdges"/>
<line x1="694.5" y1="437.8" x2="694.5" y2="516" stroke="#000" stroke-width="1" stroke-dasharray="2,2" shape-rendering="crispEdges"/>
<line x1="715.5" y1="437.8" x2="715.5" y2="516" stroke="#000" stroke-width="1" stroke-dasharray="2,2" shape-rendering="crispEdges"/>
<line x1="736.5" y1="437.8" x2="736.5" y2="516" stroke="#000" stroke-width="1" stroke-dasharray="2,2" shape-rendering="crispEdges"/>
<g clip-path="url(#cP6)">
<circle cx="433.9" cy="510" r="2.6" fill="#808080" />
<circle cx="441" cy="510" r="2.6" fill="#707070" />
<circle cx="448" cy="510" r="2.6" fill="#505050" />
<circle cx="455" cy="510" r="2.6" fill="#808080" />
<circle cx="462.1" cy="510" r="2.6" fill="#909090" />
<circle cx="469.1" cy="510" r="2.6" fill="#808080" />
<circle cx="476.1" cy="510" r="2.6" fill="#606060" />
<circle cx="673.1" cy="510" r="2.6" fill="#808080" />
<circle cx="680.1" cy="510" r="2.6" fill="#707070" />
<circle cx="687.2" cy="510" r="2.6" fill="#808080" />
<circle cx="694.2" cy="510" r="2.6" fill="#707070" />
<circle cx="701.2" cy="510" r="2.6" fill="#808080" />
<circle cx="708.3" cy="510" r="2.6" fill="#909090" />
<circle cx="715.3" cy="510" r="2.6" fill="#808080" />
<circle cx="722.3" cy="510" r="2.6" fill="#707070" />
<circle cx="342.5" cy="495.1" r="2.7" fill="#000" />
<circle cx="349.5" cy="510.6" r="2.7" fill="#000" />
<circle cx="356.6" cy="510.6" r="2.7" fill="#000" />
<circle cx="363.6" cy="510.6" r="2.7" fill="#000" />
<circle cx="370.6" cy="510.6" r="2.7" fill="#000" />
<circle cx="377.7" cy="510.6" r="2.7" fill="#000" />
<circle cx="384.7" cy="510.6" r="2.7" fill="#000" />
<circle cx="391.7" cy="510.6" r="2.7" fill="#000" />
<circle cx="398.8" cy="510.6" r="2.7" fill="#000" />
<circle cx="405.8" cy="510.6" r="2.7" fill="#000" />
<circle cx="412.8" cy="510.6" r="2.7" fill="#000" />
<circle cx="419.9" cy="510.6" r="2.7" fill="#000" />
<circle cx="426.9" cy="510.6" r="2.7" fill="#000" />
<circle cx="433.9" cy="494.2" r="2.7" fill="#000" />
<circle cx="441" cy="493.7" r="2.7" fill="#000" />
<circle cx="448" cy="495.6" r="2.7" fill="#000" />
<circle cx="455" cy="501.8" r="2.7" fill="#000" />
<circle cx="462.1" cy="502.3" r="2.7" fill="#000" />
<circle cx="469.1" cy="486.5" r="2.7" fill="#000" />
<circle cx="476.1" cy="507.9" r="2.7" fill="#000" />
<circle cx="483.2" cy="510.3" r="2.7" fill="#000" />
<circle cx="490.2" cy="510.6" r="2.7" fill="#000" />
<circle cx="497.2" cy="510.6" r="2.7" fill="#000" />
<circle cx="504.3" cy="510.6" r="2.7" fill="#000" />
<circle cx="511.3" cy="510.6" r="2.7" fill="#000" />
<circle cx="518.3" cy="510.6" r="2.7" fill="#000" />
<circle cx="525.4" cy="510.6" r="2.7" fill="#000" />
<circle cx="532.4" cy="510.6" r="2.7" fill="#000" />
<circle cx="539.4" cy="510.6" r="2.7" fill="#000" />
<circle cx="546.5" cy="510.6" r="2.7" fill="#000" />
<circle cx="553.5" cy="510.6" r="2.7" fill="#000" />
<circle cx="560.6" cy="510.6" r="2.7" fill="#000" />
<circle cx="567.6" cy="510.6" r="2.7" fill="#000" />
<circle cx="574.6" cy="510.6" r="2.7" fill="#000" />
<circle cx="581.7" cy="510.6" r="2.7" fill="#000" />
<circle cx="588.7" cy="510.6" r="2.7" fill="#000" />
<circle cx="595.7" cy="510.6" r="2.7" fill="#000" />
<circle cx="602.8" cy="510.6" r="2.7" fill="#000" />
<circle cx="609.8" cy="510.6" r="2.7" fill="#000" />
<circle cx="616.8" cy="510.6" r="2.7" fill="#000" />
<circle cx="623.9" cy="479.5" r="2.7" fill="#000" />
<circle cx="630.9" cy="503.9" r="2.7" fill="#000" />
<circle cx="637.9" cy="510.6" r="2.7" fill="#000" />
<circle cx="645" cy="510.6" r="2.7" fill="#000" />
<circle cx="652" cy="510.6" r="2.7" fill="#000" />
<circle cx="659" cy="510.6" r="2.7" fill="#000" />
<circle cx="666.1" cy="510.6" r="2.7" fill="#000" />
<circle cx="673.1" cy="505.8" r="2.7" fill="#000" />
<circle cx="680.1" cy="505.8" r="2.7" fill="#000" />
<circle cx="687.2" cy="505.8" r="2.7" fill="#000" />
<circle cx="694.2" cy="505.8" r="2.7" fill="#000" />
<circle cx="701.2" cy="507.9" r="2.7" fill="#000" />
<circle cx="708.3" cy="509.8" r="2.7" fill="#000" />
<circle cx="715.3" cy="509.8" r="2.7" fill="#000" />
<circle cx="722.3" cy="508.5" r="2.7" fill="#000" />
<circle cx="729.4" cy="510.6" r="2.7" fill="#000" />
<circle cx="736.4" cy="510.6" r="2.7" fill="#000" />
<circle cx="743.4" cy="510.6" r="2.7" fill="#000" />
<circle cx="750.5" cy="510.6" r="2.7" fill="#000" />
<circle cx="757.5" cy="504.4" r="2.7" fill="#000" />
<circle cx="342.5" cy="448.6" r="2.7" fill="#b22222" />
<circle cx="349.5" cy="447.6" r="2.7" fill="#b22222" />
<circle cx="356.6" cy="447.6" r="2.7" fill="#b22222" />
<circle cx="363.6" cy="447.6" r="2.7" fill="#b22222" />
<circle cx="370.6" cy="447.6" r="2.7" fill="#b22222" />
<circle cx="377.7" cy="447.6" r="2.7" fill="#b22222" />
<circle cx="384.7" cy="448.6" r="2.7" fill="#b22222" />
<circle cx="391.7" cy="448.6" r="2.7" fill="#b22222" />
<circle cx="398.8" cy="448.6" r="2.7" fill="#b22222" />
<circle cx="405.8" cy="448.6" r="2.7" fill="#b22222" />
<circle cx="412.8" cy="448.6" r="2.7" fill="#b22222" />
<circle cx="419.9" cy="448.6" r="2.7" fill="#b22222" />
<circle cx="426.9" cy="448.6" r="2.7" fill="#b22222" />
<circle cx="433.9" cy="450" r="2.7" fill="#b22222" />
<circle cx="441" cy="450" r="2.7" fill="#b22222" />
<circle cx="448" cy="450" r="2.7" fill="#b22222" />
<circle cx="455" cy="452.1" r="2.7" fill="#b22222" />
<circle cx="462.1" cy="457.5" r="2.7" fill="#b22222" />
<circle cx="469.1" cy="474.1" r="2.7" fill="#b22222" />
<circle cx="476.1" cy="474.1" r="2.7" fill="#b22222" />
<circle cx="483.2" cy="474.1" r="2.7" fill="#b22222" />
<circle cx="490.2" cy="474.1" r="2.7" fill="#b22222" />
<circle cx="497.2" cy="474.1" r="2.7" fill="#b22222" />
<circle cx="504.3" cy="474.1" r="2.7" fill="#b22222" />
<circle cx="511.3" cy="474.3" r="2.7" fill="#b22222" />
<circle cx="518.3" cy="474.3" r="2.7" fill="#b22222" />
<circle cx="525.4" cy="474.9" r="2.7" fill="#b22222" />
<circle cx="532.4" cy="475.5" r="2.7" fill="#b22222" />
<circle cx="539.4" cy="475.5" r="2.7" fill="#b22222" />
<circle cx="546.5" cy="475.5" r="2.7" fill="#b22222" />
<circle cx="553.5" cy="475.5" r="2.7" fill="#b22222" />
<circle cx="560.6" cy="475.5" r="2.7" fill="#b22222" />
<circle cx="567.6" cy="475.5" r="2.7" fill="#b22222" />
<circle cx="574.6" cy="475.5" r="2.7" fill="#b22222" />
<circle cx="581.7" cy="475.5" r="2.7" fill="#b22222" />
<circle cx="588.7" cy="475.5" r="2.7" fill="#b22222" />
<circle cx="595.7" cy="475.5" r="2.7" fill="#b22222" />
<circle cx="602.8" cy="475.5" r="2.7" fill="#b22222" />
<circle cx="609.8" cy="475.5" r="2.7" fill="#b22222" />
<circle cx="616.8" cy="475.5" r="2.7" fill="#b22222" />
<circle cx="623.9" cy="475.5" r="2.7" fill="#b22222" />
<circle cx="630.9" cy="475.5" r="2.7" fill="#b22222" />
<circle cx="637.9" cy="475.5" r="2.7" fill="#b22222" />
<circle cx="645" cy="475.5" r="2.7" fill="#b22222" />
<circle cx="652" cy="475.5" r="2.7" fill="#b22222" />
<circle cx="659" cy="475.5" r="2.7" fill="#b22222" />
<circle cx="666.1" cy="475.5" r="2.7" fill="#b22222" />
<circle cx="673.1" cy="477.6" r="2.7" fill="#b22222" />
<circle cx="680.1" cy="478" r="2.7" fill="#b22222" />
<circle cx="687.2" cy="478" r="2.7" fill="#b22222" />
<circle cx="694.2" cy="478" r="2.7" fill="#b22222" />
<circle cx="701.2" cy="476.3" r="2.7" fill="#b22222" />
<circle cx="708.3" cy="478" r="2.7" fill="#b22222" />
<circle cx="715.3" cy="478" r="2.7" fill="#b22222" />
<circle cx="722.3" cy="478" r="2.7" fill="#b22222" />
<circle cx="729.4" cy="478" r="2.7" fill="#b22222" />
<circle cx="736.4" cy="478" r="2.7" fill="#b22222" />
<circle cx="743.4" cy="480.3" r="2.7" fill="#b22222" />
<circle cx="750.5" cy="480.3" r="2.7" fill="#b22222" />
<circle cx="757.5" cy="477.6" r="2.7" fill="#b22222" />
<polyline points="342.5,508.5 347,512.5 361.8,513.8 426.2,513.8 428.9,508.5 433.7,488.3 441,483.5 447.7,483.5 455.7,487 462.4,489.1 469.2,487.5 475.9,487.5 481.2,499.1 489.3,511.7 501.4,513.3 555,513.8 609.4,513.3 630.9,509.8 637.6,513.3 667.1,513.3 673.8,495.6 679.2,493.7 685.9,488.3 693.9,485.7 700.6,488.3 707.3,508.5 715.4,509.8 722.1,498.5 728.8,509.8 735.5,512.5 743.5,512 750.3,505.8 754.3,485.7 757.5,470.9" fill="none" stroke="#ff9200" stroke-width="2" stroke-linejoin="round"/>
</g>
<rect x="343" y="437.8" width="81" height="78.2" fill="#e8e8e8" style="mix-blend-mode:multiply"/>
<rect x="478" y="437.8" width="114.5" height="78.2" fill="#e8e8e8" style="mix-blend-mode:multiply"/>
<rect x="646" y="437.8" width="111.5" height="78.2" fill="#e8e8e8" style="mix-blend-mode:multiply"/>
<rect x="342.5" y="437.8" width="415" height="78.2" fill="none" stroke="#000" stroke-width="1.1"/>
<rect x="342.5" y="525.7" width="415" height="77.6" fill="#2f2f2f" />
<g clip-path="url(#cP7)">
<polygon points="342,525 343,539.5 349.8,534.6 359.5,530.7 371,527.8 388.8,526.8 404,526.8 418,527.8 427.8,530.7 433.7,537.6 441.5,541.5 449,539.5 457,534.6 466.8,534.6 476.6,532.7 484.4,527.8 492,525" fill="#484848" />
<polygon points="606,525 609.4,526 622.8,530 630.9,532.8 644.3,527.4 663,528.7 673.8,534.1 687.2,536.8 700.6,540.8 711.4,532.8 727.5,527.4 743.5,528.7 757.8,538.1 758,525" fill="#484848" />
<polygon points="343,526 343,531 349,526" fill="#87cefa" />
<polygon points="420,526 428,528.5 436,528.8 441.5,526" fill="#87cefa" />
<polygon points="467,526 471,527.8 475,526" fill="#87cefa" />
<polygon points="640,526 645,527.3 650,526" fill="#87cefa" />
<polyline points="342.5,589 349.8,586.4 356.5,578.4 363.7,585.1 370.7,593.1 377.9,598.5 384.6,594.5 391.9,583.7 398.9,571.7 405.8,558.2 412.8,548.9 419.8,537.3 423.5,552.9 427,575.7 434,593.1 441,590.4 445,544.8 454.9,534.1 462.2,538.1 469.2,563.6 476.1,571.7 483.4,575.7 490.4,583.7 497.3,589.1 504.3,590.4 511.3,595.8 518.5,598.5 525.5,594.5 532.5,585.1 539.4,586.4 546.7,575.7 553.7,558.2 558.4,554.2 567,582.4 574.2,593.1 581.2,597.2 588.2,598.5 595.2,589.1 602.4,595.8 609.4,599.8 616.4,597.2 623.3,601.7" fill="none" stroke="#a8a8a8" stroke-width="1" />
<polyline points="342.5,601.2 349.8,600.6 363.7,597.7 370.7,597.7 377.9,599.3 391.9,598.5 398.9,595.8 405.8,591.8 412.8,586.4 419.8,583.7 427,575.7 434,570.3 441,569 448,583.7 455.2,595.8 462.2,600.6 469.2,602.5" fill="none" stroke="#ffffff" stroke-width="1" />
<path d="M341 603V550.4 a1.5 1.5 0 0 1 3 0V603z" fill="#ffb90f"/>
<path d="M348 603V543.1 a1.5 1.5 0 0 1 3 0V603z" fill="#ffb90f"/>
<path d="M355.1 603V537.7 a1.5 1.5 0 0 1 3 0V603z" fill="#ffb90f"/>
<path d="M362.1 603V537.7 a1.5 1.5 0 0 1 3 0V603z" fill="#ffb90f"/>
<path d="M369.1 603V537.7 a1.5 1.5 0 0 1 3 0V603z" fill="#ffb90f"/>
<path d="M376.2 603V536.1 a1.5 1.5 0 0 1 3 0V603z" fill="#ffb90f"/>
<path d="M383.2 603V534.8 a1.5 1.5 0 0 1 3 0V603z" fill="#ffb90f"/>
<path d="M390.2 603V530.8 a1.5 1.5 0 0 1 3 0V603z" fill="#ffb90f"/>
<path d="M397.3 603V530.8 a1.5 1.5 0 0 1 3 0V603z" fill="#ffb90f"/>
<path d="M404.3 603V536.9 a1.5 1.5 0 0 1 3 0V603z" fill="#ffb90f"/>
<path d="M411.3 603V536.1 a1.5 1.5 0 0 1 3 0V603z" fill="#ffb90f"/>
<path d="M418.4 603V539.6 a1.5 1.5 0 0 1 3 0V603z" fill="#ffb90f"/>
<path d="M425.4 603V541 a1.5 1.5 0 0 1 3 0V603z" fill="#ffb90f"/>
<path d="M432.4 603V561.1 a1.5 1.5 0 0 1 3 0V603z" fill="#ffb90f"/>
<path d="M439.5 603V575.8 a1.5 1.5 0 0 1 3 0V603z" fill="#ffb90f"/>
<path d="M446.5 603V579.1 a1.5 1.5 0 0 1 3 0V603z" fill="#ffb90f"/>
<path d="M453.5 603V574 a1.5 1.5 0 0 1 3 0V603z" fill="#ffb90f"/>
<path d="M460.6 603V570.5 a1.5 1.5 0 0 1 3 0V603z" fill="#ffb90f"/>
<path d="M467.6 603V568.6 a1.5 1.5 0 0 1 3 0V603z" fill="#ffb90f"/>
<path d="M474.6 603V565.7 a1.5 1.5 0 0 1 3 0V603z" fill="#ffb90f"/>
<path d="M481.7 603V552.2 a1.5 1.5 0 0 1 3 0V603z" fill="#ffb90f"/>
<path d="M488.7 603V543.6 a1.5 1.5 0 0 1 3 0V603z" fill="#ffb90f"/>
<path d="M495.7 603V543.6 a1.5 1.5 0 0 1 3 0V603z" fill="#ffb90f"/>
<path d="M502.8 603V537.7 a1.5 1.5 0 0 1 3 0V603z" fill="#ffb90f"/>
<path d="M509.8 603V532.9 a1.5 1.5 0 0 1 3 0V603z" fill="#ffb90f"/>
<path d="M516.8 603V532.9 a1.5 1.5 0 0 1 3 0V603z" fill="#ffb90f"/>
<path d="M523.9 603V531.6 a1.5 1.5 0 0 1 3 0V603z" fill="#ffb90f"/>
<path d="M530.9 603V531.6 a1.5 1.5 0 0 1 3 0V603z" fill="#ffb90f"/>
<path d="M537.9 603V537.7 a1.5 1.5 0 0 1 3 0V603z" fill="#ffb90f"/>
<path d="M545 603V531.6 a1.5 1.5 0 0 1 3 0V603z" fill="#ffb90f"/>
<path d="M552 603V532.9 a1.5 1.5 0 0 1 3 0V603z" fill="#ffb90f"/>
<path d="M559.1 603V532.9 a1.5 1.5 0 0 1 3 0V603z" fill="#ffb90f"/>
<path d="M566.1 603V535.1 a1.5 1.5 0 0 1 3 0V603z" fill="#ffb90f"/>
<path d="M573.1 603V536.9 a1.5 1.5 0 0 1 3 0V603z" fill="#ffb90f"/>
<path d="M580.2 603V541 a1.5 1.5 0 0 1 3 0V603z" fill="#ffb90f"/>
<path d="M587.2 603V537.7 a1.5 1.5 0 0 1 3 0V603z" fill="#ffb90f"/>
<path d="M594.2 603V536.9 a1.5 1.5 0 0 1 3 0V603z" fill="#ffb90f"/>
<path d="M601.3 603V539.6 a1.5 1.5 0 0 1 3 0V603z" fill="#ffb90f"/>
<path d="M608.3 603V543.1 a1.5 1.5 0 0 1 3 0V603z" fill="#ffb90f"/>
<path d="M615.3 603V544.2 a1.5 1.5 0 0 1 3 0V603z" fill="#ffb90f"/>
<path d="M622.4 603V547.1 a1.5 1.5 0 0 1 3 0V603z" fill="#ffb90f"/>
<path d="M629.4 603V547.7 a1.5 1.5 0 0 1 3 0V603z" fill="#ffb90f"/>
<path d="M636.4 603V539.6 a1.5 1.5 0 0 1 3 0V603z" fill="#ffb90f"/>
<path d="M643.5 603V536.1 a1.5 1.5 0 0 1 3 0V603z" fill="#ffb90f"/>
<path d="M650.5 603V536.1 a1.5 1.5 0 0 1 3 0V603z" fill="#ffb90f"/>
<path d="M657.5 603V536.9 a1.5 1.5 0 0 1 3 0V603z" fill="#ffb90f"/>
<path d="M664.6 603V538.3 a1.5 1.5 0 0 1 3 0V603z" fill="#ffb90f"/>
<path d="M671.6 603V553 a1.5 1.5 0 0 1 3 0V603z" fill="#ffb90f"/>
<path d="M678.6 603V554.9 a1.5 1.5 0 0 1 3 0V603z" fill="#ffb90f"/>
<path d="M685.7 603V558.9 a1.5 1.5 0 0 1 3 0V603z" fill="#ffb90f"/>
<path d="M692.7 603V558.9 a1.5 1.5 0 0 1 3 0V603z" fill="#ffb90f"/>
<path d="M699.7 603V553.8 a1.5 1.5 0 0 1 3 0V603z" fill="#ffb90f"/>
<path d="M706.8 603V549 a1.5 1.5 0 0 1 3 0V603z" fill="#ffb90f"/>
<path d="M713.8 603V549 a1.5 1.5 0 0 1 3 0V603z" fill="#ffb90f"/>
<path d="M720.8 603V551.7 a1.5 1.5 0 0 1 3 0V603z" fill="#ffb90f"/>
<path d="M727.9 603V547.1 a1.5 1.5 0 0 1 3 0V603z" fill="#ffb90f"/>
<path d="M734.9 603V544.2 a1.5 1.5 0 0 1 3 0V603z" fill="#ffb90f"/>
<path d="M741.9 603V547.1 a1.5 1.5 0 0 1 3 0V603z" fill="#ffb90f"/>
<path d="M749 603V551.7 a1.5 1.5 0 0 1 3 0V603z" fill="#ffb90f"/>
<path d="M756 603V571.8 a1.5 1.5 0 0 1 3 0V603z" fill="#ffb90f"/>
</g>
<line x1="342.5" y1="545" x2="757.5" y2="545" stroke="#000" stroke-width="1" stroke-dasharray="2,2" shape-rendering="crispEdges"/>
<line x1="342.5" y1="564.5" x2="757.5" y2="564.5" stroke="#000" stroke-width="1" stroke-dasharray="2,2" shape-rendering="crispEdges"/>
<line x1="342.5" y1="584" x2="757.5" y2="584" stroke="#000" stroke-width="1" stroke-dasharray="2,2" shape-rendering="crispEdges"/>
<line x1="356.5" y1="525.7" x2="356.5" y2="603.3" stroke="#000" stroke-width="1" stroke-dasharray="2,2" shape-rendering="crispEdges"/>
<line x1="377.5" y1="525.7" x2="377.5" y2="603.3" stroke="#000" stroke-width="1" stroke-dasharray="2,2" shape-rendering="crispEdges"/>
<line x1="398.5" y1="525.7" x2="398.5" y2="603.3" stroke="#000" stroke-width="1" stroke-dasharray="2,2" shape-rendering="crispEdges"/>
<line x1="419.5" y1="525.7" x2="419.5" y2="603.3" stroke="#000" stroke-width="1" stroke-dasharray="2,2" shape-rendering="crispEdges"/>
<line x1="440.5" y1="525.7" x2="440.5" y2="603.3" stroke="#000" stroke-width="1" stroke-dasharray="2,2" shape-rendering="crispEdges"/>
<line x1="462.5" y1="525.7" x2="462.5" y2="603.3" stroke="#000" stroke-width="1" stroke-dasharray="2,2" shape-rendering="crispEdges"/>
<line x1="483.5" y1="525.7" x2="483.5" y2="603.3" stroke="#000" stroke-width="1" stroke-dasharray="2,2" shape-rendering="crispEdges"/>
<line x1="504.5" y1="525.7" x2="504.5" y2="603.3" stroke="#000" stroke-width="1" stroke-dasharray="2,2" shape-rendering="crispEdges"/>
<line x1="525.5" y1="525.7" x2="525.5" y2="603.3" stroke="#000" stroke-width="1" stroke-dasharray="2,2" shape-rendering="crispEdges"/>
<line x1="546.5" y1="525.7" x2="546.5" y2="603.3" stroke="#000" stroke-width="1" stroke-dasharray="2,2" shape-rendering="crispEdges"/>
<line x1="567.5" y1="525.7" x2="567.5" y2="603.3" stroke="#000" stroke-width="1" stroke-dasharray="2,2" shape-rendering="crispEdges"/>
<line x1="588.5" y1="525.7" x2="588.5" y2="603.3" stroke="#000" stroke-width="1" stroke-dasharray="2,2" shape-rendering="crispEdges"/>
<line x1="609.5" y1="525.7" x2="609.5" y2="603.3" stroke="#000" stroke-width="1" stroke-dasharray="2,2" shape-rendering="crispEdges"/>
<line x1="630.5" y1="525.7" x2="630.5" y2="603.3" stroke="#000" stroke-width="1" stroke-dasharray="2,2" shape-rendering="crispEdges"/>
<line x1="651.5" y1="525.7" x2="651.5" y2="603.3" stroke="#000" stroke-width="1" stroke-dasharray="2,2" shape-rendering="crispEdges"/>
<line x1="673.5" y1="525.7" x2="673.5" y2="603.3" stroke="#000" stroke-width="1" stroke-dasharray="2,2" shape-rendering="crispEdges"/>
<line x1="694.5" y1="525.7" x2="694.5" y2="603.3" stroke="#000" stroke-width="1" stroke-dasharray="2,2" shape-rendering="crispEdges"/>
<line x1="715.5" y1="525.7" x2="715.5" y2="603.3" stroke="#000" stroke-width="1" stroke-dasharray="2,2" shape-rendering="crispEdges"/>
<line x1="736.5" y1="525.7" x2="736.5" y2="603.3" stroke="#000" stroke-width="1" stroke-dasharray="2,2" shape-rendering="crispEdges"/>
<rect x="342.5" y="525.7" width="415" height="77.6" fill="none" stroke="#000" stroke-width="1.1"/>
<text x="282.3" y="13" font-size="12" fill="#00009c" stroke="#00009c" stroke-width="0.22" textLength="146.5" lengthAdjust="spacingAndGlyphs" >wschód słońca: 07:27 CET</text>
<text x="283.3" y="26" font-size="12" fill="#00009c" stroke="#00009c" stroke-width="0.22" textLength="143" lengthAdjust="spacingAndGlyphs" >zachód słońca: 15:18 CET</text>
<text x="487.1" y="13" font-size="12" fill="#00009c" stroke="#00009c" stroke-width="0.22" textLength="127.5" lengthAdjust="spacingAndGlyphs" >21°31'16"E, 53°36'13"N</text>
<text x="509.6" y="26" font-size="12" fill="#00009c" stroke="#00009c" stroke-width="0.22" textLength="81.4" lengthAdjust="spacingAndGlyphs" >(x=258,  y=366)</text>
<text x="659.2" y="13" font-size="12" fill="#00009c" stroke="#00009c" stroke-width="0.22" textLength="157.7" lengthAdjust="spacingAndGlyphs" >wysokość (min, środek, max)</text>
<text x="690.7" y="26" font-size="12" fill="#00009c" stroke="#00009c" stroke-width="0.22" textLength="96" lengthAdjust="spacingAndGlyphs" >125 - 147 - 161 m</text>
<text x="306.6" y="54.5" font-size="12" fill="#000" stroke="#000" stroke-width="0.22" textLength="24.5" lengthAdjust="spacingAndGlyphs" >CET</text>
<text x="769.3" y="54.5" font-size="12" fill="#000" stroke="#000" stroke-width="0.22" textLength="24.5" lengthAdjust="spacingAndGlyphs" >CET</text>
<text x="432.3" y="42" font-size="12" fill="#000" stroke="#000" stroke-width="0.22" textLength="60.7" lengthAdjust="spacingAndGlyphs" >pon, 01.12</text>
<text x="601.3" y="42" font-size="12" fill="#000" stroke="#000" stroke-width="0.22" textLength="59.4" lengthAdjust="spacingAndGlyphs" >wto, 02.12</text>
<text x="356.9" y="54.5" font-size="12" fill="#000" stroke="#000" stroke-width="0.22" text-anchor="middle" textLength="13.6" lengthAdjust="spacingAndGlyphs" >22</text>
<text x="399.1" y="54.5" font-size="12" fill="#000" stroke="#000" stroke-width="0.22" text-anchor="middle" textLength="13.6" lengthAdjust="spacingAndGlyphs" >04</text>
<text x="441.3" y="54.5" font-size="12" fill="#000" stroke="#000" stroke-width="0.22" text-anchor="middle" textLength="13.6" lengthAdjust="spacingAndGlyphs" >10</text>
<text x="483.5" y="54.5" font-size="12" fill="#000" stroke="#000" stroke-width="0.22" text-anchor="middle" textLength="13.6" lengthAdjust="spacingAndGlyphs" >16</text>
<text x="525.7" y="54.5" font-size="12" fill="#000" stroke="#000" stroke-width="0.22" text-anchor="middle" textLength="13.6" lengthAdjust="spacingAndGlyphs" >22</text>
<text x="567.9" y="54.5" font-size="12" fill="#000" stroke="#000" stroke-width="0.22" text-anchor="middle" textLength="13.6" lengthAdjust="spacingAndGlyphs" >04</text>
<text x="610.1" y="54.5" font-size="12" fill="#000" stroke="#000" stroke-width="0.22" text-anchor="middle" textLength="13.6" lengthAdjust="spacingAndGlyphs" >10</text>
<text x="652.3" y="54.5" font-size="12" fill="#000" stroke="#000" stroke-width="0.22" text-anchor="middle" textLength="13.6" lengthAdjust="spacingAndGlyphs" >16</text>
<text x="694.5" y="54.5" font-size="12" fill="#000" stroke="#000" stroke-width="0.22" text-anchor="middle" textLength="13.6" lengthAdjust="spacingAndGlyphs" >22</text>
<text x="736.7" y="54.5" font-size="12" fill="#000" stroke="#000" stroke-width="0.22" text-anchor="middle" textLength="13.6" lengthAdjust="spacingAndGlyphs" >04</text>
<text x="356.9" y="616.5" font-size="12" fill="#000" stroke="#000" stroke-width="0.22" text-anchor="middle" textLength="13.6" lengthAdjust="spacingAndGlyphs" >21</text>
<text x="399.1" y="616.5" font-size="12" fill="#000" stroke="#000" stroke-width="0.22" text-anchor="middle" textLength="13.6" lengthAdjust="spacingAndGlyphs" >03</text>
<text x="441.3" y="616.5" font-size="12" fill="#000" stroke="#000" stroke-width="0.22" text-anchor="middle" textLength="13.6" lengthAdjust="spacingAndGlyphs" >09</text>
<text x="483.5" y="616.5" font-size="12" fill="#000" stroke="#000" stroke-width="0.22" text-anchor="middle" textLength="13.6" lengthAdjust="spacingAndGlyphs" >15</text>
<text x="525.7" y="616.5" font-size="12" fill="#000" stroke="#000" stroke-width="0.22" text-anchor="middle" textLength="13.6" lengthAdjust="spacingAndGlyphs" >21</text>
<text x="567.9" y="616.5" font-size="12" fill="#000" stroke="#000" stroke-width="0.22" text-anchor="middle" textLength="13.6" lengthAdjust="spacingAndGlyphs" >03</text>
<text x="610.1" y="616.5" font-size="12" fill="#000" stroke="#000" stroke-width="0.22" text-anchor="middle" textLength="13.6" lengthAdjust="spacingAndGlyphs" >09</text>
<text x="652.3" y="616.5" font-size="12" fill="#000" stroke="#000" stroke-width="0.22" text-anchor="middle" textLength="13.6" lengthAdjust="spacingAndGlyphs" >15</text>
<text x="694.5" y="616.5" font-size="12" fill="#000" stroke="#000" stroke-width="0.22" text-anchor="middle" textLength="13.6" lengthAdjust="spacingAndGlyphs" >21</text>
<text x="736.7" y="616.5" font-size="12" fill="#000" stroke="#000" stroke-width="0.22" text-anchor="middle" textLength="13.6" lengthAdjust="spacingAndGlyphs" >03</text>
<text x="307" y="616.5" font-size="12" fill="#000" stroke="#000" stroke-width="0.22" textLength="24" lengthAdjust="spacingAndGlyphs" >UTC</text>
<text x="769.4" y="616.5" font-size="12" fill="#000" stroke="#000" stroke-width="0.22" textLength="24" lengthAdjust="spacingAndGlyphs" >UTC</text>
<text x="445.6" y="629.5" font-size="12" fill="#000" stroke="#000" stroke-width="0.22" textLength="32" lengthAdjust="spacingAndGlyphs" >01.12</text>
<text x="614.4" y="629.5" font-size="12" fill="#000" stroke="#000" stroke-width="0.22" textLength="32.5" lengthAdjust="spacingAndGlyphs" >02.12</text>
<text x="300.4" y="652.5" font-size="13" fill="#00009c" stroke="#00009c" stroke-width="0.22" textLength="108" lengthAdjust="spacingAndGlyphs" >meteo@icm.edu.pl</text>
<text x="553.7" y="652.5" font-size="13" fill="#00009c" stroke="#00009c" stroke-width="0.22" textLength="252" lengthAdjust="spacingAndGlyphs" >© 2007-2025 ICM, Uniwersytet Warszawski</text>
<text x="337.5" y="68.3" font-size="10.6" fill="#000" stroke="#000" stroke-width="0.22" text-anchor="end" >4</text>
<text x="762.2" y="68.3" font-size="10.6" fill="#000" stroke="#000" stroke-width="0.22" >4</text>
<text x="337.5" y="88.3" font-size="10.6" fill="#000" stroke="#000" stroke-width="0.22" text-anchor="end" >2</text>
<text x="762.2" y="88.3" font-size="10.6" fill="#000" stroke="#000" stroke-width="0.22" >2</text>
<text x="337.5" y="108.3" font-size="10.6" fill="#000" stroke="#000" stroke-width="0.22" text-anchor="end" >0</text>
<text x="762.2" y="108.3" font-size="10.6" fill="#000" stroke="#000" stroke-width="0.22" >0</text>
<text x="337.5" y="128.3" font-size="10.6" fill="#000" stroke="#000" stroke-width="0.22" text-anchor="end" >-2</text>
<text x="762.2" y="128.3" font-size="10.6" fill="#000" stroke="#000" stroke-width="0.22" >-2</text>
<text x="337.5" y="150.5" font-size="10.6" fill="#000" stroke="#000" stroke-width="0.22" text-anchor="end" >5</text>
<text x="337.5" y="165.6" font-size="10.6" fill="#000" stroke="#000" stroke-width="0.22" text-anchor="end" >4</text>
<text x="337.5" y="180.8" font-size="10.6" fill="#000" stroke="#000" stroke-width="0.22" text-anchor="end" >3</text>
<text x="337.5" y="195.8" font-size="10.6" fill="#000" stroke="#000" stroke-width="0.22" text-anchor="end" >2</text>
<text x="337.5" y="210.6" font-size="10.6" fill="#000" stroke="#000" stroke-width="0.22" text-anchor="end" >1</text>
<text x="337.5" y="225" font-size="10.6" fill="#000" stroke="#000" stroke-width="0.22" text-anchor="end" >0</text>
<text x="762.2" y="150.6" font-size="10.6" fill="#e8481c" stroke="#e8481c" stroke-width="0.22" >100</text>
<text x="762.2" y="165.7" font-size="10.6" fill="#e8481c" stroke="#e8481c" stroke-width="0.22" >95</text>
<text x="762.2" y="181" font-size="10.6" fill="#e8481c" stroke="#e8481c" stroke-width="0.22" >90</text>
<text x="762.2" y="196.1" font-size="10.6" fill="#e8481c" stroke="#e8481c" stroke-width="0.22" >85</text>
<text x="762.2" y="211" font-size="10.6" fill="#e8481c" stroke="#e8481c" stroke-width="0.22" >80</text>
<text x="762.2" y="225.2" font-size="10.6" fill="#e8481c" stroke="#e8481c" stroke-width="0.22" >75</text>
<text x="337.5" y="235.2" font-size="10.6" fill="#000" stroke="#000" stroke-width="0.22" text-anchor="end" >1025</text>
<text x="337.5" y="255.3" font-size="10.6" fill="#000" stroke="#000" stroke-width="0.22" text-anchor="end" >1020</text>
<text x="337.5" y="275.8" font-size="10.6" fill="#000" stroke="#000" stroke-width="0.22" text-anchor="end" >1015</text>
<text x="337.5" y="296.3" font-size="10.6" fill="#000" stroke="#000" stroke-width="0.22" text-anchor="end" >1010</text>
<text x="762.2" y="235.2" font-size="10.6" fill="#000" stroke="#000" stroke-width="0.22" >769</text>
<text x="762.2" y="254.8" font-size="10.6" fill="#000" stroke="#000" stroke-width="0.22" >765</text>
<text x="762.2" y="275.8" font-size="10.6" fill="#000" stroke="#000" stroke-width="0.22" >761</text>
<text x="762.2" y="295.8" font-size="10.6" fill="#000" stroke="#000" stroke-width="0.22" >758</text>
<text x="337.5" y="322.3" font-size="10.6" fill="#000" stroke="#000" stroke-width="0.22" text-anchor="end" >10</text>
<text x="337.5" y="337.6" font-size="10.6" fill="#000" stroke="#000" stroke-width="0.22" text-anchor="end" >8</text>
<text x="337.5" y="352.8" font-size="10.6" fill="#000" stroke="#000" stroke-width="0.22" text-anchor="end" >6</text>
<text x="337.5" y="368.3" font-size="10.6" fill="#000" stroke="#000" stroke-width="0.22" text-anchor="end" >4</text>
<text x="337.5" y="383.8" font-size="10.6" fill="#000" stroke="#000" stroke-width="0.22" text-anchor="end" >2</text>
<text x="337.5" y="399" font-size="10.6" fill="#000" stroke="#000" stroke-width="0.22" text-anchor="end" >0</text>
<text x="762.2" y="323.2" font-size="10.6" fill="#000" stroke="#000" stroke-width="0.22" >36</text>
<text x="762.2" y="338.1" font-size="10.6" fill="#000" stroke="#000" stroke-width="0.22" >29</text>
<text x="762.2" y="353.3" font-size="10.6" fill="#000" stroke="#000" stroke-width="0.22" >22</text>
<text x="762.2" y="369.3" font-size="10.6" fill="#000" stroke="#000" stroke-width="0.22" >14</text>
<text x="762.2" y="384.1" font-size="10.6" fill="#000" stroke="#000" stroke-width="0.22" >7</text>
<text x="762.2" y="399" font-size="10.6" fill="#000" stroke="#000" stroke-width="0.22" >0</text>
<text x="337.5" y="442.1" font-size="10.6" fill="#000" stroke="#000" stroke-width="0.22" text-anchor="end" >15.0</text>
<text x="337.5" y="461.3" font-size="10.6" fill="#000" stroke="#000" stroke-width="0.22" text-anchor="end" >7.0</text>
<text x="337.5" y="481" font-size="10.6" fill="#000" stroke="#000" stroke-width="0.22" text-anchor="end" >2.0</text>
<text x="337.5" y="501" font-size="10.6" fill="#000" stroke="#000" stroke-width="0.22" text-anchor="end" >0.5</text>
<text x="337.5" y="519.8" font-size="10.6" fill="#000" stroke="#000" stroke-width="0.22" text-anchor="end" >0.0</text>
<text x="762.2" y="441.8" font-size="10.6" fill="#ff8000" stroke="#ff8000" stroke-width="0.22" >100</text>
<text x="762.2" y="461.7" font-size="10.6" fill="#ff8000" stroke="#ff8000" stroke-width="0.22" >20</text>
<text x="762.2" y="480.8" font-size="10.6" fill="#ff8000" stroke="#ff8000" stroke-width="0.22" >5</text>
<text x="762.2" y="500.8" font-size="10.6" fill="#ff8000" stroke="#ff8000" stroke-width="0.22" >1</text>
<text x="762.2" y="519.6" font-size="10.6" fill="#ff8000" stroke="#ff8000" stroke-width="0.22" >0</text>
<text x="337.5" y="530.1" font-size="10.6" fill="#000" stroke="#000" stroke-width="0.22" text-anchor="end" >8</text>
<text x="337.5" y="549.3" font-size="10.6" fill="#000" stroke="#000" stroke-width="0.22" text-anchor="end" >6</text>
<text x="337.5" y="568.8" font-size="10.6" fill="#000" stroke="#000" stroke-width="0.22" text-anchor="end" >4</text>
<text x="337.5" y="588.3" font-size="10.6" fill="#000" stroke="#000" stroke-width="0.22" text-anchor="end" >2</text>
<text x="337.5" y="606.6" font-size="10.6" fill="#000" stroke="#000" stroke-width="0.22" text-anchor="end" >0</text>
<text x="762.2" y="530.2" font-size="10.6" fill="#ff8000" stroke="#ff8000" stroke-width="0.22" >1</text>
<text x="762.2" y="549" font-size="10.6" fill="#ff8000" stroke="#ff8000" stroke-width="0.22" >0.75</text>
<text x="762.2" y="569" font-size="10.6" fill="#ff8000" stroke="#ff8000" stroke-width="0.22" >0.5</text>
<text x="762.2" y="587.7" font-size="10.6" fill="#ff8000" stroke="#ff8000" stroke-width="0.22" >0.25</text>
<text x="762.2" y="607.4" font-size="10.6" fill="#ff8000" stroke="#ff8000" stroke-width="0.22" >0</text>
<text x="293.5" y="96.5" font-size="12" fill="#00009c" stroke="#00009c" stroke-width="0.22" text-anchor="middle" textLength="65" lengthAdjust="spacingAndGlyphs" transform="rotate(-90 293.5 96.5)" >temperatura</text>
<text x="305.5" y="96.5" font-size="12" fill="#00009c" stroke="#00009c" stroke-width="0.22" text-anchor="middle" transform="rotate(-90 305.5 96.5)" >(°C)</text>
<text x="293" y="185" font-size="12" fill="#00009c" stroke="#00009c" stroke-width="0.22" text-anchor="middle" transform="rotate(-90 293 185)" >opad</text>
<text x="306" y="185" font-size="12" fill="#00009c" stroke="#00009c" stroke-width="0.22" text-anchor="middle" transform="rotate(-90 306 185)" >(mm/h, kg/m²/h)</text>
<text x="293" y="270" font-size="12" fill="#00009c" stroke="#00009c" stroke-width="0.22" text-anchor="middle" transform="rotate(-90 293 270)" >ciśnienie</text>
<text x="306" y="270" font-size="12" fill="#00009c" stroke="#00009c" stroke-width="0.22" text-anchor="middle" transform="rotate(-90 306 270)" >(hPa)</text>
<text x="293" y="357" font-size="12" fill="#00009c" stroke="#00009c" stroke-width="0.22" text-anchor="middle" transform="rotate(-90 293 357)" >wiatr</text>
<text x="306" y="357" font-size="12" fill="#00009c" stroke="#00009c" stroke-width="0.22" text-anchor="middle" transform="rotate(-90 306 357)" >(m/s)</text>
<text x="293" y="478" font-size="12" fill="#00009c" stroke="#00009c" stroke-width="0.22" text-anchor="middle" textLength="95" lengthAdjust="spacingAndGlyphs" transform="rotate(-90 293 478)" >pion. rozciągł. chm.</text>
<text x="305.5" y="478" font-size="12" fill="#00009c" stroke="#00009c" stroke-width="0.22" text-anchor="middle" transform="rotate(-90 305.5 478)" >(km)</text>
<text x="293" y="571" font-size="12" fill="#00009c" stroke="#00009c" stroke-width="0.22" text-anchor="middle" textLength="74" lengthAdjust="spacingAndGlyphs" transform="rotate(-90 293 571)" >zachmurzenie</text>
<text x="305.5" y="571" font-size="12" fill="#00009c" stroke="#00009c" stroke-width="0.22" text-anchor="middle" transform="rotate(-90 305.5 571)" >(oktanty)</text>
<text x="817" y="96.5" font-size="12" fill="#00009c" stroke="#00009c" stroke-width="0.22" text-anchor="middle" transform="rotate(-90 817 96.5)" >temperatura</text>
<text x="803" y="96.5" font-size="12" fill="#00009c" stroke="#00009c" stroke-width="0.22" text-anchor="middle" transform="rotate(-90 803 96.5)" >(°C)</text>
<text x="817" y="185" font-size="12" fill="#00009c" stroke="#00009c" stroke-width="0.22" text-anchor="middle" transform="rotate(-90 817 185)" >wilgotność wzgl.</text>
<text x="803" y="185" font-size="12" fill="#00009c" stroke="#00009c" stroke-width="0.22" text-anchor="middle" transform="rotate(-90 803 185)" >(%)</text>
<text x="817" y="270" font-size="12" fill="#00009c" stroke="#00009c" stroke-width="0.22" text-anchor="middle" transform="rotate(-90 817 270)" >ciśnienie</text>
<text x="803" y="270" font-size="12" fill="#00009c" stroke="#00009c" stroke-width="0.22" text-anchor="middle" transform="rotate(-90 803 270)" >(mm Hg)</text>
<text x="817" y="357" font-size="12" fill="#00009c" stroke="#00009c" stroke-width="0.22" text-anchor="middle" transform="rotate(-90 817 357)" >wiatr</text>
<text x="803" y="357" font-size="12" fill="#00009c" stroke="#00009c" stroke-width="0.22" text-anchor="middle" transform="rotate(-90 803 357)" >(km/h)</text>
<text x="817" y="478" font-size="12" fill="#00009c" stroke="#00009c" stroke-width="0.22" text-anchor="middle" transform="rotate(-90 817 478)" >widzialność</text>
<text x="803" y="478" font-size="12" fill="#00009c" stroke="#00009c" stroke-width="0.22" text-anchor="middle" transform="rotate(-90 803 478)" >(km)</text>
<text x="817" y="570" font-size="12" fill="#00009c" stroke="#00009c" stroke-width="0.22" text-anchor="middle" transform="rotate(-90 817 570)" >mgła</text>
<text x="803" y="570" font-size="12" fill="#00009c" stroke="#00009c" stroke-width="0.22" text-anchor="middle" transform="rotate(-90 803 570)" >(frakcja)</text>
<text x="298" y="410.5" font-size="11" fill="#00009c" stroke="#00009c" stroke-width="0.22" text-anchor="middle" >N</text>
<text x="288.5" y="419.5" font-size="11" fill="#00009c" stroke="#00009c" stroke-width="0.22" text-anchor="middle" >W</text>
<text x="304.8" y="419.5" font-size="11" fill="#00009c" stroke="#00009c" stroke-width="0.22" text-anchor="middle" >E</text>
<text x="297.5" y="427.5" font-size="11" fill="#00009c" stroke="#00009c" stroke-width="0.22" text-anchor="middle" >S</text>
<text x="807.5" y="410.5" font-size="11" fill="#00009c" stroke="#00009c" stroke-width="0.22" text-anchor="middle" >N</text>
<text x="798" y="419.5" font-size="11" fill="#00009c" stroke="#00009c" stroke-width="0.22" text-anchor="middle" >W</text>
<text x="814.3" y="419.5" font-size="11" fill="#00009c" stroke="#00009c" stroke-width="0.22" text-anchor="middle" >E</text>
<text x="807" y="427.5" font-size="11" fill="#00009c" stroke="#00009c" stroke-width="0.22" text-anchor="middle" >S</text>
<rect x="170.3" y="30" width="61.5" height="598.5" fill="#ebf1ff" />
<defs>
<clipPath id="cL1"><rect x="135.5" y="57.5" width="110" height="76.5"/></clipPath>
<clipPath id="cL2"><rect x="135.5" y="143.5" width="110" height="76.5"/></clipPath>
<clipPath id="cL3"><rect x="135.5" y="229.5" width="110" height="76.5"/></clipPath>
<clipPath id="cL4"><rect x="135.5" y="315.5" width="110" height="76.5"/></clipPath>
<clipPath id="cL5"><rect x="135.5" y="398.5" width="110" height="31.5"/></clipPath>
<clipPath id="cL6"><rect x="135.5" y="436.5" width="110" height="77"/></clipPath>
<clipPath id="cL7"><rect x="135.5" y="523.5" width="110" height="77.5"/></clipPath>
</defs>
<g clip-path="url(#cL1)">
<polygon points="135.5,111.5 246,111.5 246,135 135.5,135" fill="#87cefa" />
<polygon points="135.5,101 145.6,102.5 156.7,106.5 164.6,109 175.7,111.4 188.4,114.6 199.5,116.2 210.6,117 217,113.8 223.3,114.6 228,117.8 233.6,120.9 239.1,115.4 245.5,113.3 245.5,126 240,128 233,134 222,134 215,131 200,124 185,117.5 170.3,113.5 150,112.5 135.5,111.8" fill="#bfe3ff" />
<polygon points="170.3,113.5 185,117.5 200,124 215,131 222,134 170.3,134" fill="#74b4ea" />
<polygon points="135.8,87.3 148.8,92.8 163,97.6 177.3,102.3 191.6,106.3 213.8,109.4 228,112.6 234.4,111 245.5,106.3 245.5,117 241,120 235.5,123.6 230,125.5 224.5,127.3 217,127.3 208,126.4 199,123.6 190,118.2 180,114 160,108 135.8,101" fill="#ffeee6" />
</g>
<line x1="135.5" y1="60.5" x2="245.5" y2="60.5" stroke="#000" stroke-width="1" stroke-dasharray="2.7,2" shape-rendering="crispEdges"/>
<line x1="135.5" y1="77.5" x2="245.5" y2="77.5" stroke="#000" stroke-width="1" stroke-dasharray="2.7,2" shape-rendering="crispEdges"/>
<line x1="135.5" y1="94.5" x2="245.5" y2="94.5" stroke="#000" stroke-width="1" stroke-dasharray="2.7,2" shape-rendering="crispEdges"/>
<line x1="135.5" y1="111.5" x2="245.5" y2="111.5" stroke="#000" stroke-width="1" stroke-dasharray="2.7,2" shape-rendering="crispEdges"/>
<line x1="135.5" y1="128.5" x2="245.5" y2="128.5" stroke="#000" stroke-width="1" stroke-dasharray="2.7,2" shape-rendering="crispEdges"/>
<line x1="142.5" y1="57.5" x2="142.5" y2="134" stroke="#000" stroke-width="1" stroke-dasharray="2.7,2" shape-rendering="crispEdges"/>
<line x1="163.5" y1="57.5" x2="163.5" y2="134" stroke="#000" stroke-width="1" stroke-dasharray="2.7,2" shape-rendering="crispEdges"/>
<line x1="184.5" y1="57.5" x2="184.5" y2="134" stroke="#000" stroke-width="1" stroke-dasharray="2.7,2" shape-rendering="crispEdges"/>
<line x1="205.5" y1="57.5" x2="205.5" y2="134" stroke="#000" stroke-width="1" stroke-dasharray="2.7,2" shape-rendering="crispEdges"/>
<line x1="226.5" y1="57.5" x2="226.5" y2="134" stroke="#000" stroke-width="1" stroke-dasharray="2.7,2" shape-rendering="crispEdges"/>
<g clip-path="url(#cL1)">
<line x1="142.5" y1="70.6" x2="142.5" y2="83.3" stroke="#b22222" stroke-width="1" shape-rendering="crispEdges"/>
<line x1="149.5" y1="78.2" x2="149.5" y2="96" stroke="#b22222" stroke-width="1" shape-rendering="crispEdges"/>
<line x1="156.5" y1="87.3" x2="156.5" y2="99.1" stroke="#b22222" stroke-width="1" shape-rendering="crispEdges"/>
<line x1="163.5" y1="96" x2="163.5" y2="108.7" stroke="#b22222" stroke-width="1" shape-rendering="crispEdges"/>
<line x1="170.5" y1="100.7" x2="170.5" y2="114.2" stroke="#b22222" stroke-width="1" shape-rendering="crispEdges"/>
<line x1="177.5" y1="103.1" x2="177.5" y2="118.2" stroke="#b22222" stroke-width="1" shape-rendering="crispEdges"/>
<line x1="184.5" y1="108.7" x2="184.5" y2="120.5" stroke="#b22222" stroke-width="1" shape-rendering="crispEdges"/>
<line x1="191.5" y1="107.1" x2="191.5" y2="124.5" stroke="#b22222" stroke-width="1" shape-rendering="crispEdges"/>
<line x1="198.5" y1="107.9" x2="198.5" y2="126.1" stroke="#b22222" stroke-width="1" shape-rendering="crispEdges"/>
<line x1="205.5" y1="112.6" x2="205.5" y2="130" stroke="#b22222" stroke-width="1" shape-rendering="crispEdges"/>
<line x1="212.5" y1="109.4" x2="212.5" y2="129.3" stroke="#b22222" stroke-width="1" shape-rendering="crispEdges"/>
<line x1="219.5" y1="110.2" x2="219.5" y2="130" stroke="#b22222" stroke-width="1" shape-rendering="crispEdges"/>
<line x1="226.5" y1="113.4" x2="226.5" y2="133.2" stroke="#b22222" stroke-width="1" shape-rendering="crispEdges"/>
<line x1="233.5" y1="111" x2="233.5" y2="132.4" stroke="#b22222" stroke-width="1" shape-rendering="crispEdges"/>
<line x1="240.5" y1="105.5" x2="240.5" y2="119.8" stroke="#b22222" stroke-width="1" shape-rendering="crispEdges"/>
<rect x="137.1" y="112.6" width="2.8" height="2.8" fill="#7566d6" />
<rect x="142.6" y="112.6" width="2.8" height="2.8" fill="#7566d6" />
<rect x="148.6" y="112.9" width="2.8" height="2.8" fill="#7566d6" />
<rect x="155.2" y="114" width="2.8" height="2.8" fill="#7566d6" />
<rect x="162.2" y="114" width="2.8" height="2.8" fill="#7566d6" />
<rect x="169.1" y="114.1" width="2.8" height="2.8" fill="#7566d6" />
<rect x="176.1" y="115.1" width="2.8" height="2.8" fill="#7566d6" />
<rect x="183.1" y="116.1" width="2.8" height="2.8" fill="#7566d6" />
<rect x="190.1" y="117.6" width="2.8" height="2.8" fill="#7566d6" />
<rect x="197.1" y="118.6" width="2.8" height="2.8" fill="#7566d6" />
<rect x="204.5" y="119.1" width="2.8" height="2.8" fill="#7566d6" />
<rect x="211.1" y="118.4" width="2.8" height="2.8" fill="#7566d6" />
<rect x="218.2" y="119.1" width="2.8" height="2.8" fill="#7566d6" />
<rect x="225.1" y="120.1" width="2.8" height="2.8" fill="#7566d6" />
<rect x="232.2" y="118.6" width="2.8" height="2.8" fill="#7566d6" />
<rect x="239" y="117.1" width="2.8" height="2.8" fill="#7566d6" />
<polyline points="135.8,103.1 145.6,104.7 156.7,108.7 164.6,111 175.7,113.4 188.4,116.6 199.5,118.2 210.6,119 217,115.8 223.3,116.6 228,119.8 233.6,122.9 239.1,117.4 245.5,115.3" fill="none" stroke="#0000ff" stroke-width="2.2" stroke-linejoin="round"/>
<polyline points="135.8,99.5 145.6,100.4 156.7,103.9 166.2,108.3 175.7,111.8 188.4,113.7 204.3,113.7 213.8,115 224.9,115.3 233.6,119.4 239.1,115 245.5,112.1" fill="none" stroke="#ff0000" stroke-width="2.3" stroke-linejoin="round"/>
</g>
<rect x="135.5" y="57.5" width="110" height="76.5" fill="none" stroke="#000" stroke-width="1" shape-rendering="crispEdges"/>
<g clip-path="url(#cL2)" shape-rendering="crispEdges">
<rect x="135.5" y="187" width="8" height="34" fill="#009a00" />
<rect x="143.5" y="181" width="6.5" height="40" fill="#009a00" />
<rect x="150" y="179" width="7" height="42" fill="#009a00" />
<rect x="157" y="182" width="7" height="20" fill="#0033cc" />
<rect x="157" y="202" width="7" height="19" fill="#009a00" />
<rect x="164" y="205" width="6" height="3" fill="#0033cc" />
<rect x="164" y="208" width="6" height="13" fill="#009a00" />
<rect x="170" y="218" width="7" height="3" fill="#009a00" />
</g>
<line x1="135.5" y1="150.5" x2="245.5" y2="150.5" stroke="#000" stroke-width="1" stroke-dasharray="2.7,2" shape-rendering="crispEdges"/>
<line x1="135.5" y1="168" x2="245.5" y2="168" stroke="#000" stroke-width="1" stroke-dasharray="2.7,2" shape-rendering="crispEdges"/>
<line x1="135.5" y1="185.5" x2="245.5" y2="185.5" stroke="#000" stroke-width="1" stroke-dasharray="2.7,2" shape-rendering="crispEdges"/>
<line x1="135.5" y1="202.5" x2="245.5" y2="202.5" stroke="#000" stroke-width="1" stroke-dasharray="2.7,2" shape-rendering="crispEdges"/>
<line x1="142.5" y1="143.5" x2="142.5" y2="220" stroke="#000" stroke-width="1" stroke-dasharray="2.7,2" shape-rendering="crispEdges"/>
<line x1="163.5" y1="143.5" x2="163.5" y2="220" stroke="#000" stroke-width="1" stroke-dasharray="2.7,2" shape-rendering="crispEdges"/>
<line x1="184.5" y1="143.5" x2="184.5" y2="220" stroke="#000" stroke-width="1" stroke-dasharray="2.7,2" shape-rendering="crispEdges"/>
<line x1="205.5" y1="143.5" x2="205.5" y2="220" stroke="#000" stroke-width="1" stroke-dasharray="2.7,2" shape-rendering="crispEdges"/>
<line x1="226.5" y1="143.5" x2="226.5" y2="220" stroke="#000" stroke-width="1" stroke-dasharray="2.7,2" shape-rendering="crispEdges"/>
<line x1="139.5" y1="165" x2="139.5" y2="187" stroke="#00a800" stroke-width="1" shape-rendering="crispEdges"/>
<line x1="146.5" y1="149" x2="146.5" y2="181" stroke="#00a800" stroke-width="1" shape-rendering="crispEdges"/>
<line x1="153.5" y1="149" x2="153.5" y2="179" stroke="#00a800" stroke-width="1" shape-rendering="crispEdges"/>
<line x1="160.5" y1="171" x2="160.5" y2="182" stroke="#0033cc" stroke-width="1" shape-rendering="crispEdges"/>
<rect x="145.5" y="146.5" width="2.5" height="2.5" fill="#ff0000" />
<rect x="152.5" y="146.5" width="2.5" height="2.5" fill="#ff0000" />
<g clip-path="url(#cL2)">
<polyline points="137,171.5 138.8,169.8 143.4,167 148.9,159.7 154.4,156 163.5,152.9 185.5,152.4 191,149.3 198.3,149.3 205.6,154.8 212.9,155.5 223.9,149.6 231.2,150.5 238.5,156 245.5,164.3" fill="none" stroke="#e04818" stroke-width="2" stroke-linejoin="round"/>
</g>
<circle cx="139.5" cy="173.5" r="2.6" fill="#ffee00" stroke="#000" stroke-width="1"/>
<circle cx="146.5" cy="173.5" r="2.6" fill="#ffa500" stroke="#000" stroke-width="1"/>
<circle cx="153.5" cy="173.5" r="2.6" fill="#ff0000" stroke="#000" stroke-width="1"/>
<line x1="137" y1="219.5" x2="148" y2="219.5" stroke="#ff0000" stroke-width="1" stroke-dasharray="4,3" shape-rendering="crispEdges"/>
<line x1="153.5" y1="219.5" x2="160" y2="219.5" stroke="#ff0000" stroke-width="1" stroke-dasharray="4,3" shape-rendering="crispEdges"/>
<line x1="162" y1="219.5" x2="165" y2="219.5" stroke="#ff0000" stroke-width="1" stroke-dasharray="4,3" shape-rendering="crispEdges"/>
<rect x="135.5" y="143.5" width="110" height="76.5" fill="none" stroke="#000" stroke-width="1" shape-rendering="crispEdges"/>
<g clip-path="url(#cL3)">
<polygon points="135.7,260.8 143.4,259.9 148.9,254.6 158,249.4 164.4,249.1 170.3,244.9 177.3,248.2 183.6,249.8 191.9,253.5 224.8,254 233,257.7 245.5,265.5 246,307 135,307" fill="#ffff00" />
<clipPath id="cL3y"><polygon points="135.7,260.8 143.4,259.9 148.9,254.6 158,249.4 164.4,249.1 170.3,244.9 177.3,248.2 183.6,249.8 191.9,253.5 224.8,254 233,257.7 245.5,265.5 246,307 135,307"/></clipPath>
<rect x="165.4" y="240" width="4.8" height="70" fill="#ffdc1c" clip-path="url(#cL3y)"/>
</g>
<line x1="135.5" y1="231.5" x2="245.5" y2="231.5" stroke="#000" stroke-width="1" stroke-dasharray="2.7,2" shape-rendering="crispEdges"/>
<line x1="135.5" y1="254.5" x2="245.5" y2="254.5" stroke="#000" stroke-width="1" stroke-dasharray="2.7,2" shape-rendering="crispEdges"/>
<line x1="135.5" y1="277.5" x2="245.5" y2="277.5" stroke="#000" stroke-width="1" stroke-dasharray="2.7,2" shape-rendering="crispEdges"/>
<line x1="135.5" y1="301.5" x2="245.5" y2="301.5" stroke="#000" stroke-width="1" stroke-dasharray="2.7,2" shape-rendering="crispEdges"/>
<line x1="142.5" y1="229.5" x2="142.5" y2="306" stroke="#000" stroke-width="1" stroke-dasharray="2.7,2" shape-rendering="crispEdges"/>
<line x1="163.5" y1="229.5" x2="163.5" y2="306" stroke="#000" stroke-width="1" stroke-dasharray="2.7,2" shape-rendering="crispEdges"/>
<line x1="184.5" y1="229.5" x2="184.5" y2="306" stroke="#000" stroke-width="1" stroke-dasharray="2.7,2" shape-rendering="crispEdges"/>
<line x1="205.5" y1="229.5" x2="205.5" y2="306" stroke="#000" stroke-width="1" stroke-dasharray="2.7,2" shape-rendering="crispEdges"/>
<line x1="226.5" y1="229.5" x2="226.5" y2="306" stroke="#000" stroke-width="1" stroke-dasharray="2.7,2" shape-rendering="crispEdges"/>
<g clip-path="url(#cL3)">
<polyline points="135.7,260.8 143.4,259.9 148.9,254.6 158,249.4 164.4,249.1 170.3,244.9 177.3,248.2 183.6,249.8 191.9,253.5 224.8,254 233,257.7 245.5,265.5" fill="none" stroke="#000" stroke-width="2.4" stroke-linejoin="round"/>
</g>
<rect x="135.5" y="229.5" width="110" height="76.5" fill="none" stroke="#000" stroke-width="1" shape-rendering="crispEdges"/>
<g clip-path="url(#cL4)">
<clipPath id="lz135"><rect x="135.5" y="300" width="12.8" height="100"/></clipPath>
<polygon points="135.7,365.1 143.4,368.4 152.6,371.1 165.4,372.9 178.2,374.8 185.5,374.4 196.5,372.6 223.9,372.4 233,371.1 245.5,369.8 246,393 135,393" fill="#1dc11d" clip-path="url(#lz135)"/>
<clipPath id="lz148"><rect x="148.3" y="300" width="20.7" height="100"/></clipPath>
<polygon points="135.7,365.1 143.4,368.4 152.6,371.1 165.4,372.9 178.2,374.8 185.5,374.4 196.5,372.6 223.9,372.4 233,371.1 245.5,369.8 246,393 135,393" fill="#007a1a" clip-path="url(#lz148)"/>
<clipPath id="lz169"><rect x="169" y="300" width="27.8" height="100"/></clipPath>
<polygon points="135.7,365.1 143.4,368.4 152.6,371.1 165.4,372.9 178.2,374.8 185.5,374.4 196.5,372.6 223.9,372.4 233,371.1 245.5,369.8 246,393 135,393" fill="#00458a" clip-path="url(#lz169)"/>
<clipPath id="lz196"><rect x="196.8" y="300" width="14.3" height="100"/></clipPath>
<polygon points="135.7,365.1 143.4,368.4 152.6,371.1 165.4,372.9 178.2,374.8 185.5,374.4 196.5,372.6 223.9,372.4 233,371.1 245.5,369.8 246,393 135,393" fill="#007a1a" clip-path="url(#lz196)"/>
<clipPath id="lz211"><rect x="211.1" y="300" width="13.7" height="100"/></clipPath>
<polygon points="135.7,365.1 143.4,368.4 152.6,371.1 165.4,372.9 178.2,374.8 185.5,374.4 196.5,372.6 223.9,372.4 233,371.1 245.5,369.8 246,393 135,393" fill="#00458a" clip-path="url(#lz211)"/>
<clipPath id="lz224"><rect x="224.8" y="300" width="13.7" height="100"/></clipPath>
<polygon points="135.7,365.1 143.4,368.4 152.6,371.1 165.4,372.9 178.2,374.8 185.5,374.4 196.5,372.6 223.9,372.4 233,371.1 245.5,369.8 246,393 135,393" fill="#007a1a" clip-path="url(#lz224)"/>
<clipPath id="lz238"><rect x="238.5" y="300" width="7.5" height="100"/></clipPath>
<polygon points="135.7,365.1 143.4,368.4 152.6,371.1 165.4,372.9 178.2,374.8 185.5,374.4 196.5,372.6 223.9,372.4 233,371.1 245.5,369.8 246,393 135,393" fill="#1dc11d" clip-path="url(#lz238)"/>
</g>
<line x1="135.5" y1="334.5" x2="245.5" y2="334.5" stroke="#000" stroke-width="1" stroke-dasharray="2.7,2" shape-rendering="crispEdges"/>
<line x1="135.5" y1="354" x2="245.5" y2="354" stroke="#000" stroke-width="1" stroke-dasharray="2.7,2" shape-rendering="crispEdges"/>
<line x1="135.5" y1="373.5" x2="245.5" y2="373.5" stroke="#000" stroke-width="1" stroke-dasharray="2.7,2" shape-rendering="crispEdges"/>
<line x1="142.5" y1="315.5" x2="142.5" y2="392" stroke="#000" stroke-width="1" stroke-dasharray="2.7,2" shape-rendering="crispEdges"/>
<line x1="163.5" y1="315.5" x2="163.5" y2="392" stroke="#000" stroke-width="1" stroke-dasharray="2.7,2" shape-rendering="crispEdges"/>
<line x1="184.5" y1="315.5" x2="184.5" y2="392" stroke="#000" stroke-width="1" stroke-dasharray="2.7,2" shape-rendering="crispEdges"/>
<line x1="205.5" y1="315.5" x2="205.5" y2="392" stroke="#000" stroke-width="1" stroke-dasharray="2.7,2" shape-rendering="crispEdges"/>
<line x1="226.5" y1="315.5" x2="226.5" y2="392" stroke="#000" stroke-width="1" stroke-dasharray="2.7,2" shape-rendering="crispEdges"/>
<g clip-path="url(#cL4)">
<polyline points="135.7,365.1 143.4,368.4 152.6,371.1 165.4,372.9 178.2,374.8 185.5,374.4 196.5,372.6 223.9,372.4 233,371.1 245.5,369.8" fill="none" stroke="#00009c" stroke-width="2.2" stroke-linejoin="round"/>
<line x1="143.4" y1="340.5" x2="148.9" y2="340.5" stroke="#ff0000" stroke-width="1" shape-rendering="crispEdges"/>
<line x1="148.3" y1="347.5" x2="155.3" y2="347.5" stroke="#ff0000" stroke-width="1" shape-rendering="crispEdges"/>
<line x1="155.3" y1="348.5" x2="162" y2="348.5" stroke="#ff0000" stroke-width="1" shape-rendering="crispEdges"/>
<line x1="162" y1="351.5" x2="170" y2="351.5" stroke="#ff0000" stroke-width="1" shape-rendering="crispEdges"/>
<line x1="170" y1="355.5" x2="177.3" y2="355.5" stroke="#ff0000" stroke-width="1" shape-rendering="crispEdges"/>
<line x1="176.3" y1="358.5" x2="184.6" y2="358.5" stroke="#ff0000" stroke-width="1" shape-rendering="crispEdges"/>
<line x1="184.6" y1="354.5" x2="189" y2="354.5" stroke="#ff0000" stroke-width="1" shape-rendering="crispEdges"/>
<line x1="190" y1="351.5" x2="197.3" y2="351.5" stroke="#ff0000" stroke-width="1" shape-rendering="crispEdges"/>
<line x1="197.4" y1="350.5" x2="211" y2="350.5" stroke="#ff0000" stroke-width="1" shape-rendering="crispEdges"/>
<line x1="211" y1="351.5" x2="224.8" y2="351.5" stroke="#ff0000" stroke-width="1" shape-rendering="crispEdges"/>
<line x1="225.7" y1="347.5" x2="233" y2="347.5" stroke="#ff0000" stroke-width="1" shape-rendering="crispEdges"/>
<line x1="232" y1="343.5" x2="239.4" y2="343.5" stroke="#ff0000" stroke-width="1" shape-rendering="crispEdges"/>
<line x1="239.4" y1="342.5" x2="245.5" y2="342.5" stroke="#ff0000" stroke-width="1" shape-rendering="crispEdges"/>
</g>
<rect x="135.5" y="315.5" width="110" height="76.5" fill="none" stroke="#000" stroke-width="1" shape-rendering="crispEdges"/>
<line x1="142.5" y1="398.5" x2="142.5" y2="430" stroke="#000" stroke-width="1" stroke-dasharray="2.7,2" shape-rendering="crispEdges"/>
<line x1="163.5" y1="398.5" x2="163.5" y2="430" stroke="#000" stroke-width="1" stroke-dasharray="2.7,2" shape-rendering="crispEdges"/>
<line x1="184.5" y1="398.5" x2="184.5" y2="430" stroke="#000" stroke-width="1" stroke-dasharray="2.7,2" shape-rendering="crispEdges"/>
<line x1="205.5" y1="398.5" x2="205.5" y2="430" stroke="#000" stroke-width="1" stroke-dasharray="2.7,2" shape-rendering="crispEdges"/>
<line x1="226.5" y1="398.5" x2="226.5" y2="430" stroke="#000" stroke-width="1" stroke-dasharray="2.7,2" shape-rendering="crispEdges"/>
<line x1="139.5" y1="406" x2="145.2" y2="421.5" stroke="#00009c" stroke-width="1.2" />
<polygon points="145.9,423.4 140,417.5 146.6,415.1" fill="#00009c" />
<line x1="146.4" y1="406" x2="152" y2="421.5" stroke="#00009c" stroke-width="1.2" />
<polygon points="152.7,423.4 146.9,417.5 153.4,415.1" fill="#00009c" />
<line x1="153.3" y1="406" x2="158.9" y2="421.5" stroke="#00009c" stroke-width="1.2" />
<polygon points="159.6,423.4 153.7,417.5 160.3,415.1" fill="#00009c" />
<line x1="160.1" y1="406" x2="165.8" y2="421.5" stroke="#00009c" stroke-width="1.2" />
<polygon points="166.4,423.4 160.6,417.5 167.2,415.1" fill="#00009c" />
<line x1="167" y1="406" x2="172.6" y2="421.5" stroke="#00009c" stroke-width="1.2" />
<polygon points="173.3,423.4 167.4,417.5 174,415.1" fill="#00009c" />
<line x1="173.8" y1="406" x2="179.5" y2="421.5" stroke="#00009c" stroke-width="1.2" />
<polygon points="180.2,423.4 174.3,417.5 180.9,415.1" fill="#00009c" />
<line x1="180.7" y1="406" x2="186.3" y2="421.5" stroke="#00009c" stroke-width="1.2" />
<polygon points="187,423.4 181.2,417.5 187.7,415.1" fill="#00009c" />
<line x1="187.6" y1="406" x2="193.2" y2="421.5" stroke="#00009c" stroke-width="1.2" />
<polygon points="193.9,423.4 188,417.5 194.6,415.1" fill="#00009c" />
<line x1="194.4" y1="406" x2="200.1" y2="421.5" stroke="#00009c" stroke-width="1.2" />
<polygon points="200.7,423.4 194.9,417.5 201.5,415.1" fill="#00009c" />
<line x1="201.3" y1="406" x2="206.9" y2="421.5" stroke="#00009c" stroke-width="1.2" />
<polygon points="207.6,423.4 201.7,417.5 208.3,415.1" fill="#00009c" />
<line x1="208.1" y1="406" x2="213.8" y2="421.5" stroke="#00009c" stroke-width="1.2" />
<polygon points="214.5,423.4 208.6,417.5 215.2,415.1" fill="#00009c" />
<line x1="215" y1="406" x2="220.6" y2="421.5" stroke="#00009c" stroke-width="1.2" />
<polygon points="221.3,423.4 215.5,417.5 222,415.1" fill="#00009c" />
<line x1="221.9" y1="406" x2="227.5" y2="421.5" stroke="#00009c" stroke-width="1.2" />
<polygon points="228.2,423.4 222.3,417.5 228.9,415.1" fill="#00009c" />
<line x1="228.7" y1="406" x2="234.4" y2="421.5" stroke="#00009c" stroke-width="1.2" />
<polygon points="235,423.4 229.2,417.5 235.8,415.1" fill="#00009c" />
<line x1="235.6" y1="406" x2="241.2" y2="421.5" stroke="#00009c" stroke-width="1.2" />
<polygon points="241.9,423.4 236,417.5 242.6,415.1" fill="#00009c" />
<line x1="242.4" y1="406" x2="248.1" y2="421.5" stroke="#00009c" stroke-width="1.2" />
<polygon points="248.8,423.4 242.9,417.5 249.5,415.1" fill="#00009c" />
<polygon points="136,419 140,419 138.5,423.5 136,422" fill="#00009c" />
<polygon points="246,419 250,420 249.5,424 246,422" fill="#00009c" />
<rect x="135.5" y="398.5" width="110" height="31.5" fill="none" stroke="#000" stroke-width="1" shape-rendering="crispEdges"/>
<rect x="135.5" y="436.5" width="110" height="77" fill="#87cefa" />
<line x1="135.5" y1="456.5" x2="245.5" y2="456.5" stroke="#000" stroke-width="1" stroke-dasharray="2.7,2" shape-rendering="crispEdges"/>
<line x1="135.5" y1="475.5" x2="245.5" y2="475.5" stroke="#000" stroke-width="1" stroke-dasharray="2.7,2" shape-rendering="crispEdges"/>
<line x1="135.5" y1="495.5" x2="245.5" y2="495.5" stroke="#000" stroke-width="1" stroke-dasharray="2.7,2" shape-rendering="crispEdges"/>
<line x1="142.5" y1="436.5" x2="142.5" y2="513.5" stroke="#000" stroke-width="1" stroke-dasharray="2.7,2" shape-rendering="crispEdges"/>
<line x1="163.5" y1="436.5" x2="163.5" y2="513.5" stroke="#000" stroke-width="1" stroke-dasharray="2.7,2" shape-rendering="crispEdges"/>
<line x1="184.5" y1="436.5" x2="184.5" y2="513.5" stroke="#000" stroke-width="1" stroke-dasharray="2.7,2" shape-rendering="crispEdges"/>
<line x1="205.5" y1="436.5" x2="205.5" y2="513.5" stroke="#000" stroke-width="1" stroke-dasharray="2.7,2" shape-rendering="crispEdges"/>
<line x1="226.5" y1="436.5" x2="226.5" y2="513.5" stroke="#000" stroke-width="1" stroke-dasharray="2.7,2" shape-rendering="crispEdges"/>
<g clip-path="url(#cL6)">
<circle cx="143.4" cy="506.2" r="2.6" fill="#ffffff" />
<circle cx="150.3" cy="500.3" r="2.6" fill="#ffffff" />
<circle cx="164" cy="499.3" r="2.6" fill="#ffffff" />
<circle cx="170.5" cy="492.4" r="2.6" fill="#ffffff" />
<circle cx="177.4" cy="492.4" r="2.6" fill="#ffffff" />
<circle cx="184.3" cy="509.5" r="2.6" fill="#ffffff" />
<circle cx="191.2" cy="500.3" r="2.6" fill="#ffffff" />
<circle cx="204.4" cy="492.4" r="2.6" fill="#ffffff" />
<circle cx="211.3" cy="492.4" r="2.6" fill="#ffffff" />
<circle cx="218.2" cy="509.5" r="2.6" fill="#ffffff" />
<circle cx="225.1" cy="509.5" r="2.6" fill="#ffffff" />
<circle cx="232.6" cy="509.5" r="2.6" fill="#ffffff" />
<circle cx="239.5" cy="509.5" r="2.6" fill="#ffffff" />
<circle cx="136.5" cy="505.2" r="2.6" fill="#d4d0c8" />
<circle cx="170.5" cy="489.5" r="2.6" fill="#d4d0c8" />
<circle cx="198.5" cy="489.5" r="2.6" fill="#d4d0c8" />
<circle cx="211.3" cy="489.5" r="2.6" fill="#d4d0c8" />
<circle cx="218.2" cy="500.3" r="2.6" fill="#d4d0c8" />
<circle cx="225.1" cy="500.3" r="2.6" fill="#d4d0c8" />
<circle cx="239.5" cy="500.3" r="2.6" fill="#d4d0c8" />
<circle cx="245.2" cy="500.3" r="2.6" fill="#d4d0c8" />
<circle cx="143.4" cy="500.3" r="2.6" fill="#989898" />
<circle cx="177.4" cy="489.5" r="2.6" fill="#989898" />
<circle cx="198.5" cy="484.9" r="2.6" fill="#989898" />
<circle cx="211.3" cy="484.9" r="2.6" fill="#989898" />
<circle cx="232.6" cy="500.3" r="2.6" fill="#989898" />
<circle cx="239.5" cy="494.4" r="2.6" fill="#989898" />
<circle cx="184.3" cy="504.2" r="2.6" fill="#989898" />
<circle cx="245.2" cy="481" r="2.6" fill="#989898" />
<circle cx="143.4" cy="481" r="2.6" fill="#505050" />
<circle cx="150.3" cy="492.4" r="2.6" fill="#505050" />
<circle cx="157.2" cy="492.4" r="2.6" fill="#505050" />
<circle cx="164" cy="492.4" r="2.6" fill="#505050" />
<circle cx="184.3" cy="500.3" r="2.6" fill="#505050" />
<circle cx="191.2" cy="489.5" r="2.6" fill="#505050" />
<circle cx="211.3" cy="481" r="2.6" fill="#505050" />
<circle cx="218.2" cy="489.5" r="2.6" fill="#505050" />
<circle cx="225.1" cy="492.4" r="2.6" fill="#505050" />
<circle cx="232.6" cy="494.4" r="2.6" fill="#505050" />
<circle cx="198.5" cy="468" r="2.6" fill="#505050" />
<circle cx="191.2" cy="456.4" r="2.6" fill="#000" />
<circle cx="198.5" cy="464.3" r="2.6" fill="#000" />
<circle cx="204.4" cy="467.8" r="2.6" fill="#000" />
<circle cx="211.3" cy="469.8" r="2.6" fill="#000" />
<circle cx="218.2" cy="481.2" r="2.6" fill="#000" />
<circle cx="225.1" cy="484.9" r="2.6" fill="#000" />
<circle cx="232.6" cy="489.5" r="2.6" fill="#000" />
<circle cx="239.5" cy="481.2" r="2.6" fill="#000" />
<circle cx="245.2" cy="476.7" r="2.6" fill="#000" />
<circle cx="184.3" cy="489.1" r="2.6" fill="#000" />
<circle cx="136.5" cy="474.7" r="2.6" fill="#b22222" />
<circle cx="143.4" cy="474.7" r="2.6" fill="#b22222" />
<circle cx="150.3" cy="458" r="2.6" fill="#b22222" />
<circle cx="157.2" cy="458" r="2.6" fill="#b22222" />
<circle cx="164" cy="460.3" r="2.6" fill="#b22222" />
<circle cx="170.5" cy="451.1" r="2.6" fill="#b22222" />
<circle cx="177.4" cy="449.5" r="2.6" fill="#b22222" />
<circle cx="184.3" cy="449.5" r="2.6" fill="#b22222" />
<circle cx="191.2" cy="449.5" r="2.6" fill="#b22222" />
<circle cx="198.5" cy="451.1" r="2.6" fill="#b22222" />
<circle cx="204.4" cy="449.5" r="2.6" fill="#b22222" />
<circle cx="211.3" cy="449.5" r="2.6" fill="#b22222" />
<circle cx="218.2" cy="449.5" r="2.6" fill="#b22222" />
<circle cx="225.1" cy="449.5" r="2.6" fill="#b22222" />
<circle cx="232.6" cy="449.5" r="2.6" fill="#b22222" />
<circle cx="239.5" cy="449.5" r="2.6" fill="#b22222" />
<circle cx="245.2" cy="449.5" r="2.6" fill="#b22222" />
<polyline points="136.1,471.1 143.4,470.8 150.3,466.2 164,463.5 178.8,463.5 191.6,468.8 203.4,470.8 218.2,474.1 233,473.7 245.5,469.8" fill="none" stroke="#ff9200" stroke-width="2.1" stroke-linejoin="round"/>
</g>
<rect x="170.3" y="436.5" width="61.5" height="77" fill="#ebf1ff" style="mix-blend-mode:multiply"/>
<rect x="135.5" y="436.5" width="110" height="77" fill="none" stroke="#000" stroke-width="1" shape-rendering="crispEdges"/>
<rect x="135.5" y="523.5" width="110" height="77.5" fill="#87cefa" />
<rect x="170.3" y="523.5" width="61.5" height="77.5" fill="#ebf1ff" style="mix-blend-mode:multiply"/>
<g clip-path="url(#cL7)">
<polygon points="192.8,575.4 194.6,551.6 197.4,531.5 203.8,533.3 207.4,532.4 214.7,526.3 222.1,525.1 233,523.8 246.8,523.8 246.8,601.9 192.8,601.9" fill="#9a9a9a" />
<polygon points="165.4,588.2 170.8,575.4 178.2,565.3 185.5,561.6 191,547.9 196.5,545.2 194.6,551.6 192.8,575.4 191,569.9 183.7,569.9 178.2,592.7 167.2,589.6" fill="#ffffff" />
<polygon points="134.3,601.9 134.3,575.4 143.4,562.9 150.7,577.2 159.9,584.1 165.4,587.3 167.2,589.6 178.2,592.7 183.7,569.9 191,569.9 192.8,575.4 203.8,595.5 209.3,591.8 214.7,569.9 218.4,546.1 225.7,535.1 233,540.6 240.4,555.2 246.8,575.4 246.8,601.9" fill="#525252" />
<polygon points="138.8,601 148.9,590.9 164.4,601" fill="#303030" />
<polyline points="135.2,588.2 141.6,595.5 148.9,599.5 159.9,601.3" fill="none" stroke="#d8d8d8" stroke-width="1" />
<polyline points="164.4,601 166.3,588.2 170.8,575.4 178.2,565.3 185.5,561.6 191,547.9 196.5,545.2 204.7,543.4 207.4,533.3 214.7,526.9 222.1,524.1 233,524.1 240.4,536.9 245.8,544.3" fill="none" stroke="#ffffff" stroke-width="1" />
<polyline points="184.6,601 191,575.4 192.8,575.4" fill="none" stroke="#b0b0b0" stroke-width="1" />
<rect x="217" y="590" width="3" height="12" fill="#ffb400" />
<rect x="224" y="590" width="3" height="12" fill="#ffb400" />
<rect x="231" y="590" width="3" height="12" fill="#ffb400" />
<rect x="238.2" y="590" width="3" height="12" fill="#ffb400" />
</g>
<line x1="135.5" y1="543.5" x2="245.5" y2="543.5" stroke="#000" stroke-width="1" stroke-dasharray="2.7,2" shape-rendering="crispEdges"/>
<line x1="135.5" y1="562.5" x2="245.5" y2="562.5" stroke="#000" stroke-width="1" stroke-dasharray="2.7,2" shape-rendering="crispEdges"/>
<line x1="135.5" y1="582.5" x2="245.5" y2="582.5" stroke="#000" stroke-width="1" stroke-dasharray="2.7,2" shape-rendering="crispEdges"/>
<line x1="142.5" y1="523.5" x2="142.5" y2="601" stroke="#000" stroke-width="1" stroke-dasharray="2.7,2" shape-rendering="crispEdges"/>
<line x1="163.5" y1="523.5" x2="163.5" y2="601" stroke="#000" stroke-width="1" stroke-dasharray="2.7,2" shape-rendering="crispEdges"/>
<line x1="184.5" y1="523.5" x2="184.5" y2="601" stroke="#000" stroke-width="1" stroke-dasharray="2.7,2" shape-rendering="crispEdges"/>
<line x1="205.5" y1="523.5" x2="205.5" y2="601" stroke="#000" stroke-width="1" stroke-dasharray="2.7,2" shape-rendering="crispEdges"/>
<line x1="226.5" y1="523.5" x2="226.5" y2="601" stroke="#000" stroke-width="1" stroke-dasharray="2.7,2" shape-rendering="crispEdges"/>
<rect x="135.5" y="523.5" width="110" height="77.5" fill="none" stroke="#000" stroke-width="1" shape-rendering="crispEdges"/>
<text x="128.5" y="63.3" font-size="10.4" fill="#000" stroke="#000" stroke-width="0.22" text-anchor="end" >30</text>
<text x="254.3" y="63.3" font-size="10.4" fill="#000" stroke="#000" stroke-width="0.22" >30</text>
<text x="128.5" y="80.7" font-size="10.4" fill="#000" stroke="#000" stroke-width="0.22" text-anchor="end" >20</text>
<text x="254.3" y="80.7" font-size="10.4" fill="#000" stroke="#000" stroke-width="0.22" >20</text>
<text x="128.5" y="97.7" font-size="10.4" fill="#000" stroke="#000" stroke-width="0.22" text-anchor="end" >10</text>
<text x="254.3" y="97.7" font-size="10.4" fill="#000" stroke="#000" stroke-width="0.22" >10</text>
<text x="128.5" y="115" font-size="10.4" fill="#000" stroke="#000" stroke-width="0.22" text-anchor="end" >0</text>
<text x="254.3" y="115" font-size="10.4" fill="#000" stroke="#000" stroke-width="0.22" >0</text>
<text x="128.5" y="132.4" font-size="10.4" fill="#000" stroke="#000" stroke-width="0.22" text-anchor="end" >-10</text>
<text x="250.8" y="132.4" font-size="10.4" fill="#000" stroke="#000" stroke-width="0.22" >-10</text>
<text x="128.5" y="153.7" font-size="10.4" fill="#000" stroke="#000" stroke-width="0.22" text-anchor="end" >2.0</text>
<text x="128.5" y="171.6" font-size="10.4" fill="#000" stroke="#000" stroke-width="0.22" text-anchor="end" >1.5</text>
<text x="128.5" y="188.7" font-size="10.4" fill="#000" stroke="#000" stroke-width="0.22" text-anchor="end" >1.0</text>
<text x="128.5" y="206.2" font-size="10.4" fill="#000" stroke="#000" stroke-width="0.22" text-anchor="end" >0.5</text>
<text x="128.5" y="223.5" font-size="10.4" fill="#000" stroke="#000" stroke-width="0.22" text-anchor="end" >0.0</text>
<text x="254.3" y="153.7" font-size="10.4" fill="#e04818" stroke="#e04818" stroke-width="0.22" >96</text>
<text x="254.3" y="171.6" font-size="10.4" fill="#e04818" stroke="#e04818" stroke-width="0.22" >84</text>
<text x="254.3" y="188.7" font-size="10.4" fill="#e04818" stroke="#e04818" stroke-width="0.22" >73</text>
<text x="254.3" y="206.2" font-size="10.4" fill="#e04818" stroke="#e04818" stroke-width="0.22" >61</text>
<text x="254.3" y="223.5" font-size="10.4" fill="#e04818" stroke="#e04818" stroke-width="0.22" >50</text>
<text x="128.5" y="234.9" font-size="10.4" fill="#000" stroke="#000" stroke-width="0.22" text-anchor="end" >1018</text>
<text x="251.2" y="234.9" font-size="10.4" fill="#000" stroke="#000" stroke-width="0.22" >1018</text>
<text x="128.5" y="258" font-size="10.4" fill="#000" stroke="#000" stroke-width="0.22" text-anchor="end" >1016</text>
<text x="251.2" y="258" font-size="10.4" fill="#000" stroke="#000" stroke-width="0.22" >1016</text>
<text x="128.5" y="281.7" font-size="10.4" fill="#000" stroke="#000" stroke-width="0.22" text-anchor="end" >1014</text>
<text x="251.2" y="281.7" font-size="10.4" fill="#000" stroke="#000" stroke-width="0.22" >1014</text>
<text x="128.5" y="304.7" font-size="10.4" fill="#000" stroke="#000" stroke-width="0.22" text-anchor="end" >1012</text>
<text x="251.2" y="304.7" font-size="10.4" fill="#000" stroke="#000" stroke-width="0.22" >1012</text>
<text x="128.5" y="318.9" font-size="10.4" fill="#000" stroke="#000" stroke-width="0.22" text-anchor="end" >20</text>
<text x="128.5" y="338.1" font-size="10.4" fill="#000" stroke="#000" stroke-width="0.22" text-anchor="end" >15</text>
<text x="128.5" y="357.5" font-size="10.4" fill="#000" stroke="#000" stroke-width="0.22" text-anchor="end" >10</text>
<text x="128.5" y="376.5" font-size="10.4" fill="#000" stroke="#000" stroke-width="0.22" text-anchor="end" >5</text>
<text x="128.5" y="395.4" font-size="10.4" fill="#000" stroke="#000" stroke-width="0.22" text-anchor="end" >0</text>
<text x="251.2" y="318.9" font-size="10.4" fill="#000" stroke="#000" stroke-width="0.22" >72</text>
<text x="251.2" y="337.9" font-size="10.4" fill="#000" stroke="#000" stroke-width="0.22" >54</text>
<text x="251.2" y="357.6" font-size="10.4" fill="#000" stroke="#000" stroke-width="0.22" >36</text>
<text x="251.2" y="376.4" font-size="10.4" fill="#000" stroke="#000" stroke-width="0.22" >18</text>
<text x="251.2" y="395.5" font-size="10.4" fill="#000" stroke="#000" stroke-width="0.22" >0</text>
<text x="128.5" y="440.3" font-size="10.4" fill="#000" stroke="#000" stroke-width="0.22" text-anchor="end" >15.0</text>
<text x="128.5" y="460.3" font-size="10.4" fill="#000" stroke="#000" stroke-width="0.22" text-anchor="end" >7.0</text>
<text x="128.5" y="479.1" font-size="10.4" fill="#000" stroke="#000" stroke-width="0.22" text-anchor="end" >2.0</text>
<text x="128.5" y="498.7" font-size="10.4" fill="#000" stroke="#000" stroke-width="0.22" text-anchor="end" >0.5</text>
<text x="128.5" y="517.5" font-size="10.4" fill="#000" stroke="#000" stroke-width="0.22" text-anchor="end" >0.0</text>
<text x="251.2" y="439.9" font-size="10.4" fill="#ff8c00" stroke="#ff8c00" stroke-width="0.22" >100</text>
<text x="251.2" y="459.9" font-size="10.4" fill="#ff8c00" stroke="#ff8c00" stroke-width="0.22" >20</text>
<text x="251.2" y="479.2" font-size="10.4" fill="#ff8c00" stroke="#ff8c00" stroke-width="0.22" >5</text>
<text x="251.2" y="498.4" font-size="10.4" fill="#ff8c00" stroke="#ff8c00" stroke-width="0.22" >1</text>
<text x="251.2" y="517.3" font-size="10.4" fill="#ff8c00" stroke="#ff8c00" stroke-width="0.22" >0</text>
<text x="128.5" y="526.2" font-size="10.4" fill="#000" stroke="#000" stroke-width="0.22" text-anchor="end" >8</text>
<text x="128.5" y="546.5" font-size="10.4" fill="#000" stroke="#000" stroke-width="0.22" text-anchor="end" >6</text>
<text x="128.5" y="565.8" font-size="10.4" fill="#000" stroke="#000" stroke-width="0.22" text-anchor="end" >4</text>
<text x="128.5" y="586.3" font-size="10.4" fill="#000" stroke="#000" stroke-width="0.22" text-anchor="end" >2</text>
<text x="128.5" y="604.7" font-size="10.4" fill="#000" stroke="#000" stroke-width="0.22" text-anchor="end" >0</text>
<text x="251.2" y="526.4" font-size="10.4" fill="#ff8c00" stroke="#ff8c00" stroke-width="0.22" >1</text>
<text x="251.2" y="546.4" font-size="10.4" fill="#ff8c00" stroke="#ff8c00" stroke-width="0.22" >0.75</text>
<text x="251.2" y="565.7" font-size="10.4" fill="#ff8c00" stroke="#ff8c00" stroke-width="0.22" >0.5</text>
<text x="251.2" y="585.3" font-size="10.4" fill="#ff8c00" stroke="#ff8c00" stroke-width="0.22" >0.25</text>
<text x="251.2" y="604.6" font-size="10.4" fill="#ff8c00" stroke="#ff8c00" stroke-width="0.22" >0</text>
<text x="164.2" y="51.2" font-size="12" fill="#000" stroke="#000" stroke-width="0.22" text-anchor="middle" textLength="13" lengthAdjust="spacingAndGlyphs" >20</text>
<text x="204.5" y="51.2" font-size="12" fill="#000" stroke="#000" stroke-width="0.22" text-anchor="middle" textLength="13" lengthAdjust="spacingAndGlyphs" >02</text>
<text x="245" y="51.2" font-size="12" fill="#000" stroke="#000" stroke-width="0.22" text-anchor="middle" textLength="13" lengthAdjust="spacingAndGlyphs" >08</text>
<text x="163.8" y="615" font-size="12" fill="#000" stroke="#000" stroke-width="0.22" text-anchor="middle" textLength="13" lengthAdjust="spacingAndGlyphs" >18</text>
<text x="204.3" y="615" font-size="12" fill="#000" stroke="#000" stroke-width="0.22" text-anchor="middle" textLength="13" lengthAdjust="spacingAndGlyphs" >00</text>
<text x="245" y="615" font-size="12" fill="#000" stroke="#000" stroke-width="0.22" text-anchor="middle" textLength="13" lengthAdjust="spacingAndGlyphs" >06</text>
<text x="6" y="18" font-size="11" fill="#000" stroke="#000" stroke-width="0.22" textLength="59" lengthAdjust="spacingAndGlyphs" >Czas lokalny</text>
<text x="6" y="29" font-size="11" fill="#000" stroke="#000" stroke-width="0.22" textLength="55" lengthAdjust="spacingAndGlyphs" >(CET/CEST)</text>
<polyline points="68,16.5 132.5,16.5 156.3,46.5" fill="none" stroke="#000" stroke-width="1" />
<text x="6" y="46" font-size="11" fill="#a52020" stroke="#a52020" stroke-width="0.22" textLength="93" lengthAdjust="spacingAndGlyphs" >Temperatura gruntu</text>
<text x="28" y="56" font-size="11" fill="#a52020" stroke="#a52020" stroke-width="0.22" textLength="38" lengthAdjust="spacingAndGlyphs" >max/min</text>
<polyline points="102.5,44.5 119.5,44.5 149.5,84.5" fill="none" stroke="#a52020" stroke-width="1" />
<text x="6" y="68" font-size="11" fill="#000" stroke="#000" stroke-width="0.22" textLength="61.4" lengthAdjust="spacingAndGlyphs" >Temperatura:</text>
<text x="12.8" y="80" font-size="11" fill="#ff0000" stroke="#ff0000" stroke-width="0.22" textLength="76.8" lengthAdjust="spacingAndGlyphs" >punkt środkowy</text>
<polyline points="92,76.5 113,76.5" fill="none" stroke="#ff0000" stroke-width="1" />
<polyline points="130,76.5 133,77.5 160,105" fill="none" stroke="#ff0000" stroke-width="1" />
<text x="28" y="89.7" font-size="11" fill="#ffd9cc" stroke="#ffd9cc" stroke-width="0.22" textLength="38" lengthAdjust="spacingAndGlyphs" >max/min</text>
<text x="9.9" y="101.6" font-size="11" fill="#0000ff" stroke="#0000ff" stroke-width="0.22" textLength="57.5" lengthAdjust="spacingAndGlyphs" >odczuwana</text>
<polyline points="70,99.5 130,99.5 136,103" fill="none" stroke="#0000ff" stroke-width="1" />
<text x="27.7" y="111.5" font-size="11" fill="#b0e0ff" stroke="#b0e0ff" stroke-width="0.22" textLength="38.5" lengthAdjust="spacingAndGlyphs" >max/min</text>
<text x="6.5" y="123.4" font-size="11" fill="#6a5acd" stroke="#6a5acd" stroke-width="0.22" textLength="86.2" lengthAdjust="spacingAndGlyphs" >Temp. punktu rosy</text>
<polyline points="95.6,120.5 128,120.5 132,119 137,113.5" fill="none" stroke="#6a5acd" stroke-width="1" />
<text x="6.5" y="140.8" font-size="11" fill="#ff0000" stroke="#ff0000" stroke-width="0.22" textLength="93.9" lengthAdjust="spacingAndGlyphs" >Opad powyżej skali</text>
<polyline points="103.3,137.5 140.7,137.5 146.2,147" fill="none" stroke="#ff0000" stroke-width="1" />
<text x="6.5" y="154.1" font-size="11" fill="#e04818" stroke="#e04818" stroke-width="0.22" textLength="96.8" lengthAdjust="spacingAndGlyphs" >Wilgotność względna</text>
<polyline points="105.9,150.5 111,150.5" fill="none" stroke="#e04818" stroke-width="1" />
<polyline points="129.7,151 144.3,159.7" fill="none" stroke="#e04818" stroke-width="1" />
<text x="6.5" y="168.7" font-size="11" fill="#000" stroke="#000" stroke-width="0.22" textLength="84" lengthAdjust="spacingAndGlyphs" >Wystąpienie burzy</text>
<polyline points="93.9,166.5 112.7,166.5" fill="none" stroke="#000" stroke-width="1" />
<polyline points="129.7,166.5 133,168 137.5,172.5" fill="none" stroke="#000" stroke-width="1" />
<text x="6.5" y="182.8" font-size="11" fill="#00a000" stroke="#00a000" stroke-width="0.22" textLength="37" lengthAdjust="spacingAndGlyphs" >Deszcz:</text>
<text x="49.5" y="182.8" font-size="11" fill="#00a000" stroke="#00a000" stroke-width="0.22" textLength="19" lengthAdjust="spacingAndGlyphs" >max</text>
<polyline points="70.9,179.5 139.4,179.5" fill="none" stroke="#00a000" stroke-width="1" />
<text x="49.2" y="194.1" font-size="11" fill="#00a000" stroke="#00a000" stroke-width="0.22" textLength="29" lengthAdjust="spacingAndGlyphs" >średni</text>
<polyline points="80.2,190.5 136,190.5" fill="none" stroke="#00a000" stroke-width="1" />
<text x="6" y="205.2" font-size="11" fill="#0033cc" stroke="#0033cc" stroke-width="0.22" textLength="30" lengthAdjust="spacingAndGlyphs" >Śnieg:</text>
<text x="49.2" y="205.2" font-size="11" fill="#0033cc" stroke="#0033cc" stroke-width="0.22" textLength="19" lengthAdjust="spacingAndGlyphs" >max</text>
<polyline points="70.3,202.5 111.8,202.5" fill="none" stroke="#0033cc" stroke-width="1" />
<polyline points="129.4,202.5 132,201 160.5,172.5" fill="none" stroke="#0033cc" stroke-width="1" />
<text x="49.2" y="216.3" font-size="11" fill="#0033cc" stroke="#0033cc" stroke-width="0.22" textLength="29" lengthAdjust="spacingAndGlyphs" >średni</text>
<polyline points="81.1,213.5 131.5,213.5 158,188" fill="none" stroke="#0033cc" stroke-width="1" />
<text x="6" y="228.3" font-size="11" fill="#ff0000" stroke="#ff0000" stroke-width="0.22" textLength="87.9" lengthAdjust="spacingAndGlyphs" >Wystąpienie opadu</text>
<polyline points="97.3,225.5 144.3,225.5 148,220" fill="none" stroke="#ff0000" stroke-width="1" />
<text x="6" y="241.1" font-size="11" fill="#ff0000" stroke="#ff0000" stroke-width="0.22" textLength="71.2" lengthAdjust="spacingAndGlyphs" >konwekcyjnego</text>
<text x="5.1" y="267.1" font-size="11" fill="#000" stroke="#000" stroke-width="0.22" textLength="41.3" lengthAdjust="spacingAndGlyphs" >Ciśnienie</text>
<polyline points="51.2,263.5 131.5,263.5 136,261" fill="none" stroke="#000" stroke-width="1" />
<text x="5.1" y="280.5" font-size="11" fill="#000" stroke="#000" stroke-width="0.22" textLength="65.8" lengthAdjust="spacingAndGlyphs" >zredukowane</text>
<text x="5.1" y="293.3" font-size="11" fill="#000" stroke="#000" stroke-width="0.22" textLength="87.1" lengthAdjust="spacingAndGlyphs" >do poziomu morza</text>
<text x="5.5" y="322.7" font-size="11" fill="#000" stroke="#000" stroke-width="0.22" textLength="65.4" lengthAdjust="spacingAndGlyphs" >Wiatr na 10m:</text>
<text x="9.9" y="337.8" font-size="11" fill="#ff0000" stroke="#ff0000" stroke-width="0.22" textLength="100.2" lengthAdjust="spacingAndGlyphs" >poryw powyżej skali</text>
<polyline points="111.8,334.5 117.8,334.5" fill="none" stroke="#ff0000" stroke-width="1" />
<polyline points="130.2,334.5 138.8,317" fill="none" stroke="#ff0000" stroke-width="1" />
<rect x="137.5" y="316" width="2.5" height="2.5" fill="#ff0000" />
<text x="9.9" y="351.5" font-size="11" fill="#ff0000" stroke="#ff0000" stroke-width="0.22" textLength="93.9" lengthAdjust="spacingAndGlyphs" >max porywy wiatru</text>
<polyline points="107.2,348.5 131.5,348.5 144.3,340.5" fill="none" stroke="#ff0000" stroke-width="1" />
<text x="9.9" y="371.6" font-size="11" fill="#00009c" stroke="#00009c" stroke-width="0.22" textLength="78.5" lengthAdjust="spacingAndGlyphs" >prędkość wiatru</text>
<polyline points="92.2,367.5 136.6,367.5" fill="none" stroke="#00009c" stroke-width="1" />
<text x="9.9" y="384.7" font-size="11" fill="#00009c" stroke="#00009c" stroke-width="0.22" textLength="88.6" lengthAdjust="spacingAndGlyphs" >w środku obszaru</text>
<text x="9.9" y="412.6" font-size="11" fill="#00009c" stroke="#00009c" stroke-width="0.22" textLength="73.4" lengthAdjust="spacingAndGlyphs" >kierunek wiatru</text>
<polyline points="86.2,410.5 141,410.5" fill="none" stroke="#00009c" stroke-width="1" />
<text x="6" y="433" font-size="11" fill="#a52020" stroke="#a52020" stroke-width="0.22" textLength="91" lengthAdjust="spacingAndGlyphs" >Wierzchołek chmur</text>
<polyline points="100.4,429.5 134.9,429.5 183.7,447.1" fill="none" stroke="#a52020" stroke-width="1" />
<text x="6" y="447.5" font-size="11" fill="#000" stroke="#000" stroke-width="0.22" textLength="85.3" lengthAdjust="spacingAndGlyphs" >Podstawa chmur*</text>
<text x="6" y="459.2" font-size="11" fill="#000" stroke="#000" stroke-width="0.22" textLength="47.3" lengthAdjust="spacingAndGlyphs" >o pokryciu</text>
<text x="10.6" y="472.3" font-size="11" fill="#000" stroke="#000" stroke-width="0.22" textLength="43.7" lengthAdjust="spacingAndGlyphs" >&gt; 7.9 okt.</text>
<polyline points="57.2,468.5 132.3,468.5 189.6,456.4" fill="none" stroke="#000" stroke-width="1" />
<text x="10.6" y="483.1" font-size="11" fill="#404040" stroke="#404040" stroke-width="0.22" textLength="43.7" lengthAdjust="spacingAndGlyphs" >&gt; 6.5 okt.</text>
<polyline points="57.2,480.5 142.4,480.5" fill="none" stroke="#404040" stroke-width="1" />
<text x="10.6" y="494.2" font-size="11" fill="#989898" stroke="#989898" stroke-width="0.22" textLength="43.7" lengthAdjust="spacingAndGlyphs" >&gt; 4.5 okt.</text>
<polyline points="57.2,490.5 131.6,490.5 142.4,500.3" fill="none" stroke="#989898" stroke-width="1" />
<text x="10.6" y="503.6" font-size="11" fill="#d4d0c8" stroke="#d4d0c8" stroke-width="0.22" textLength="43.7" lengthAdjust="spacingAndGlyphs" >&gt; 2.5 okt.</text>
<polyline points="57.2,500.5 131.6,500.5 137.5,505.2" fill="none" stroke="#d4d0c8" stroke-width="1" />
<rect x="11" y="505" width="44" height="11.5" fill="#87cefa" />
<text x="10.6" y="514.8" font-size="11" fill="#ffffff" stroke="#ffffff" stroke-width="0.22" textLength="43.7" lengthAdjust="spacingAndGlyphs" >&gt; 0.1 okt.</text>
<line x1="55" y1="510.5" x2="135.5" y2="510.5" stroke="#87cefa" stroke-width="3" />
<line x1="55" y1="510.5" x2="135.5" y2="510.5" stroke="#ffffff" stroke-width="1" />
<text x="6" y="530" font-size="11" fill="#ff8000" stroke="#ff8000" stroke-width="0.22" textLength="57.2" lengthAdjust="spacingAndGlyphs" >Widzialność</text>
<polyline points="67.4,527.5 129.8,527.5 173.9,464.9" fill="none" stroke="#ff8000" stroke-width="1" />
<text x="6" y="546.7" font-size="11" fill="#000" stroke="#000" stroke-width="0.22" textLength="38.4" lengthAdjust="spacingAndGlyphs" >Chmury:</text>
<rect x="10" y="551.5" width="41" height="11.2" fill="#87cefa" />
<text x="11" y="559.9" font-size="11" fill="#ffffff" stroke="#ffffff" stroke-width="0.22" textLength="39" lengthAdjust="spacingAndGlyphs" >wysokie</text>
<line x1="51" y1="557.5" x2="191" y2="557.5" stroke="#87cefa" stroke-width="3" />
<line x1="51" y1="557.5" x2="191" y2="557.5" stroke="#ffffff" stroke-width="1" />
<text x="9.9" y="572.3" font-size="11" fill="#989898" stroke="#989898" stroke-width="0.22" textLength="35.3" lengthAdjust="spacingAndGlyphs" >średnie</text>
<polyline points="49.2,571.5 192.8,571.5" fill="none" stroke="#989898" stroke-width="1" />
<text x="9.9" y="584.6" font-size="11" fill="#404040" stroke="#404040" stroke-width="0.22" textLength="26" lengthAdjust="spacingAndGlyphs" >niskie</text>
<polyline points="40.1,582.5 122,582.5" fill="none" stroke="#404040" stroke-width="1" />
<polyline points="130,582.5 137,582.5" fill="none" stroke="#404040" stroke-width="1" />
<text x="9.9" y="596.2" font-size="11" fill="#202020" stroke="#202020" stroke-width="0.22" textLength="61" lengthAdjust="spacingAndGlyphs" >bardzo niskie</text>
<polyline points="74.3,594.5 143.4,594.5" fill="none" stroke="#202020" stroke-width="1" />
<text x="6" y="607.3" font-size="11" fill="#ffb000" stroke="#ffb000" stroke-width="0.22" textLength="20.5" lengthAdjust="spacingAndGlyphs" >Mgła</text>
<polyline points="29.9,605.5 217.5,605.5 218.5,601" fill="none" stroke="#ffb000" stroke-width="1" />
<text x="6.1" y="625.3" font-size="11" fill="#000" stroke="#000" stroke-width="0.22" textLength="130.5" lengthAdjust="spacing" >Czas uniwersalny (UTC)</text>
<polyline points="139.3,623.5 150.2,623.5 157.5,611" fill="none" stroke="#000" stroke-width="1" />
<text x="5.1" y="650.5" font-size="9" fill="#000" stroke="#000" stroke-width="0.22" textLength="103" lengthAdjust="spacingAndGlyphs" font-weight="bold" >* powyżej poziomu morza</text>
<rect x="5" y="0" width="1" height="2" fill="#000" />
</svg>
</body></html>
